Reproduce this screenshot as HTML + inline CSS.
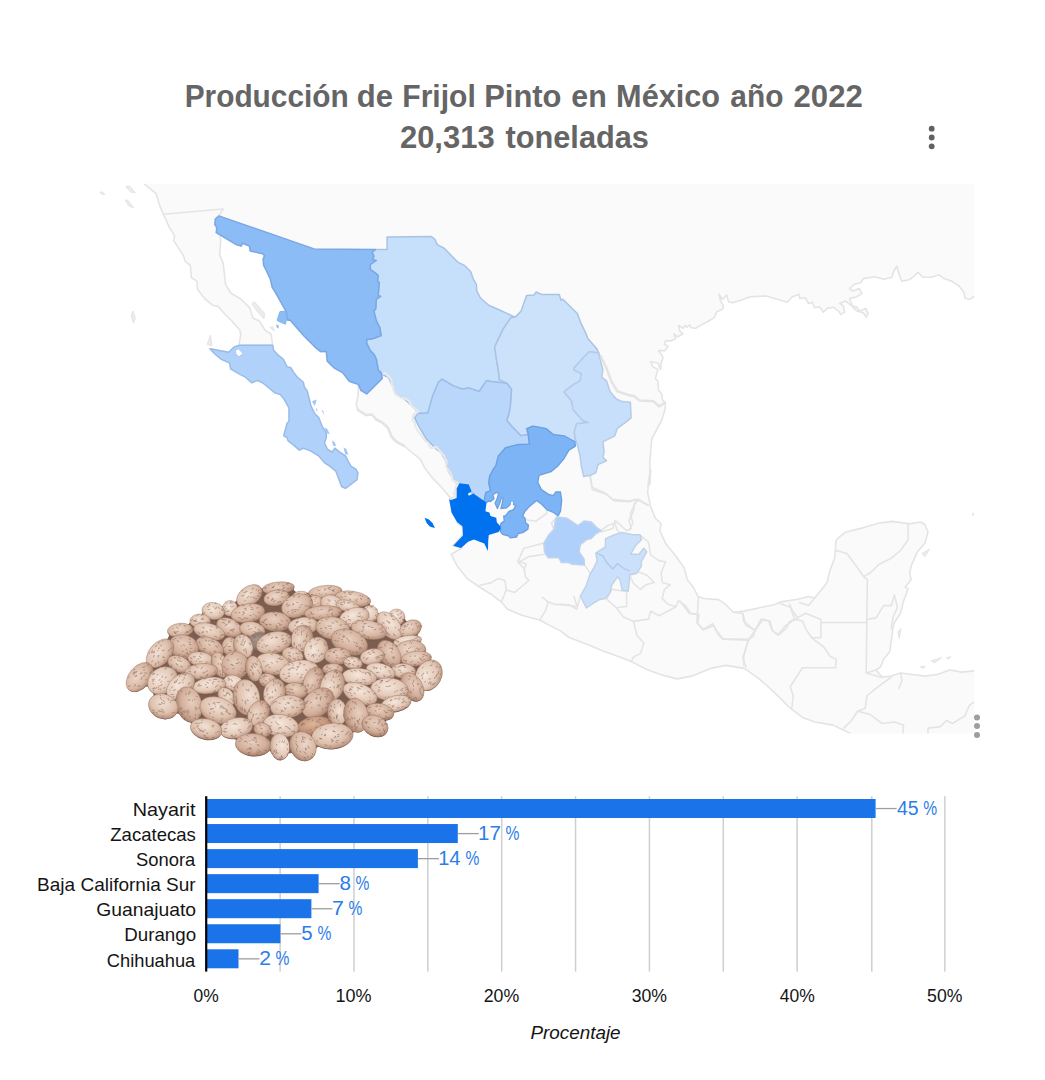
<!DOCTYPE html>
<html lang="es"><head><meta charset="utf-8"><title>Producción de Frijol Pinto en México año 2022</title>
<style>html,body{margin:0;padding:0;background:#fff}svg{display:block}text{font-family:"Liberation Sans",sans-serif}.t{font-weight:bold;font-size:30.5px;fill:#666}.c{font-size:17px;fill:#111}.v{font-size:17px;fill:#2b7de9}.x{font-size:17px;fill:#111}</style></head><body>
<svg width="1045" height="1080" viewBox="0 0 1045 1080">
<rect width="1045" height="1080" fill="#fff"/>
<text transform="translate(184.63 107.30) scale(0.9756 1)" font-size="30.6" fill="#656565" font-weight="bold">Producción</text>
<text transform="translate(356.73 107.30) scale(1.0150 1)" font-size="30.6" fill="#656565" font-weight="bold">de</text>
<text transform="translate(402.32 107.30) scale(0.9820 1)" font-size="30.6" fill="#656565" font-weight="bold">Frijol</text>
<text transform="translate(484.17 107.30) scale(1.0113 1)" font-size="30.6" fill="#656565" font-weight="bold">Pinto</text>
<text transform="translate(571.35 107.30) scale(0.9918 1)" font-size="30.6" fill="#656565" font-weight="bold">en</text>
<text transform="translate(616.08 107.30) scale(1.0027 1)" font-size="30.6" fill="#656565" font-weight="bold">México</text>
<text transform="translate(730.33 107.30) scale(0.9769 1)" font-size="30.6" fill="#656565" font-weight="bold">año</text>
<text transform="translate(793.53 107.30) scale(1.0188 1)" font-size="30.6" fill="#656565" font-weight="bold">2022</text>
<text transform="translate(399.93 148.00) scale(1.0122 1)" font-size="30.6" fill="#656565" font-weight="bold">20,313</text>
<text transform="translate(505.50 148.00) scale(1.0049 1)" font-size="30.6" fill="#656565" font-weight="bold">toneladas</text>
<circle cx="931.7" cy="128.7" r="2.9" fill="#616161"/>
<circle cx="931.7" cy="137.5" r="2.9" fill="#616161"/>
<circle cx="931.7" cy="146.3" r="2.9" fill="#616161"/>
<clipPath id="mc"><rect x="92" y="183.8" width="882.3" height="549.5999999999999"/></clipPath>
<g clip-path="url(#mc)">
<path d="M141,177.8 L980.3,177.8 L980.3,297 L973.9,296.7 L970.2,299.2 L965.2,298.5 L963.9,292.3 L959,286 L951.5,281.1 L944,278.6 L939.1,274.8 L931.6,277.3 L922.9,277.3 L917.9,272.3 L914.2,276.1 L909.2,279.8 L901.7,281.1 L899.2,274.8 L896.8,266.1 L893.8,271.1 L891.8,277.3 L884.3,279.3 L874.4,276.8 L863.2,278.6 L860.7,282.8 L854.5,284.3 L849.5,288.5 L853.2,291 L859.4,288.5 L861.9,293.5 L856.9,296.7 L849.5,298.5 L853.2,307.7 L856.9,310.9 L863.2,312.7 L866.4,317.1 L868.1,313.4 L865.7,308.4 L859.4,310.9 L856.9,307.2 L850.7,305.2 L845.7,301 L839.5,303.4 L843.3,305.9 L844.5,312.2 L840.8,314.6 L838.3,310.9 L833.3,307.2 L827.1,308.4 L823.4,312.2 L819.6,306.7 L814.6,307.7 L812.2,302.2 L808.4,303.4 L805.2,297.7 L799.7,298.5 L799.2,294.2 L792.3,296.7 L787.3,302.2 L766.1,296 L760,296.2 L749.2,296.9 L741.5,300.1 L732.4,302.7 L728.5,301.4 L726.6,294.9 L722.7,299.4 L718.8,294.3 L720.7,301.4 L723.3,305.3 L722.7,309.2 L716.8,311.8 L714.3,317.6 L707.8,321.5 L700,325.6 L696.1,328.2 L690.9,327.7 L689.6,324.7 L687,327.3 L685.1,325.4 L683.1,328.2 L678.6,325.4 L679.9,331.2 L683.1,333.8 L677.3,337 L674.1,333.8 L675.4,339 L670.2,340.9 L665.6,340.9 L664.3,344.2 L668.2,346.1 L665,350.6 L658.5,350.6 L661.8,355.2 L663.1,357.8 L661.1,363 L660.5,369.4 L657.9,363 L650.7,361.7 L652.7,366.8 L657.9,369.4 L656.6,374 L655.3,378.5 L657.9,381.1 L658.5,390.2 L661.8,394.1 L662.4,399.9 L665.6,402.5 L665,409.6 L661.8,420 L651.7,439 L649.8,462 L649.8,485 L650.7,469.9 L648.4,481.3 L647.7,492.8 L650.7,506.6 L655.3,518.1 L661.1,523.8 L659.9,530.7 L665.6,543.4 L674.8,554.8 L684,567.5 L687.5,580.1 L693.2,587 L697.8,596.2 L703.5,598.5 L718.5,599.6 L725.4,604.2 L733.4,612.3 L743.7,611.1 L759.8,607.7 L775.9,604.2 L780.5,601.9 L796.4,599.5 L808.6,596.5 L814.7,598 L827,582.7 L830,570.4 L834.6,558.2 L836.2,539.8 L845.4,532.2 L863.7,527.6 L879,523 L892.8,521.4 L909.7,523.9 L920.4,522 L925,524.5 L928,532.2 L925,542.9 L917.3,552.1 L911.2,565.8 L909.7,573.5 L911.2,579.6 L905.1,587.3 L908.1,588.8 L903.5,601.1 L900.5,613.3 L894.4,622.5 L892.8,628.6 L891.3,640.9 L889.8,651.6 L883.6,659.2 L880.6,666.9 L876,670 L882.1,677 L891.3,676.1 L900.5,673 L912.7,674.5 L925,676.1 L937.2,674.5 L949.5,670 L961.7,672.1 L974,670.9 L980.3,671 L980.3,739.4 L852,739.4 L850,733.3 L833.1,725.1 L814.7,722 L802.5,717.4 L790.2,708.2 L774.9,692.9 L759.6,679.1 L744.3,668.4 L725.9,665.4 L710.6,668.4 L692.2,676.1 L677.1,678.9 L663.4,675.4 L647.3,669.7 L631.2,661.6 L619.7,657 L603.6,651.3 L587.6,644.4 L569.2,637.5 L560,630.6 L550.5,625.9 L539.7,620 L521.8,615.2 L507.4,609.2 L501.4,602 L491.9,594.8 L478.7,586.5 L466.7,578.1 L457.2,566.1 L451.2,554.2 L461.5,548.2 L452.9,545.8 L462.4,535.1 L463.6,527.9 L457.7,523.1 L452.9,513.5 L449.3,499.2 L450.5,498 L441.1,486.7 L432,477.6 L424.3,467.2 L420.4,459.4 L412.6,453 L404.8,446.5 L397,442.6 L391.8,437.4 L388,428.3 L382.8,423.1 L376.3,419.9 L371.8,414.7 L365.9,415.4 L357.5,410.2 L356.2,403.7 L358.1,395.9 L358.4,384.4 L355,383.2 L349.3,381.2 L342.6,372.6 L334,367.8 L327.3,361.1 L326.3,351.6 L320.6,351.6 L314.8,346.8 L304.3,336.3 L290,320 L287.8,320.2 L286.1,311.1 L284.7,308.8 L280.6,301.6 L275.8,293.2 L272.2,287.2 L270.3,278.9 L267.5,272.9 L263.6,265.2 L263.2,259 L264.6,255.6 L262.7,253.7 L250.2,250.9 L249.5,246.1 L242.6,243.2 L241.1,246.1 L236.4,244.6 L216.3,232.7 L218.9,232.7 L220.8,239.4 L219.6,254.9 L223.2,263.3 L224.4,274.1 L225.6,284.8 L231.1,293.2 L241.1,299.2 L249.5,307.6 L253.1,318.3 L259.1,320.7 L265.1,330.3 L271.1,333.9 L272.7,345.8 L272.7,345.3 L273.7,350.6 L278.5,355.4 L283.3,359.2 L287.1,366.9 L290.9,367.8 L293.8,372.6 L296.7,376.5 L303.3,382.2 L304.3,387 L307.2,390.8 L309.1,398.5 L311,406.1 L314.8,413.8 L318.7,417.6 L322.5,427.2 L326.3,432.9 L326.3,437.7 L324.4,442.5 L327.3,449.2 L332.1,452.1 L334.9,448.2 L339.7,452.1 L345.5,455.9 L348.3,461.6 L351.2,466.4 L356,469.3 L357.9,473.1 L356.9,479.8 L345.5,488.4 L341.6,486.5 L338.8,478.9 L335.9,471.2 L330.1,466.4 L324.4,462.6 L318.7,455.9 L311,451.1 L303.3,448.2 L299.5,450.1 L292.8,444.4 L288,440.6 L287.1,437.7 L283.8,435.8 L287.1,423.3 L289,421.4 L289,408 L284.2,399.4 L280.4,394.6 L274.6,392.7 L267.9,387 L263.2,383.2 L257.4,380.3 L251.7,382.8 L245.9,377.4 L240.2,374.5 L230.6,368.8 L229.7,363.1 L221.1,359.2 L214.4,353.5 L210,348.7 L228.7,352.2 L234.4,346.8 L239.2,345.3 L238.8,345.8 L240.7,335.1 L240,330.3 L231.6,320.7 L224.4,313.5 L218.4,306.4 L212.4,305.2 L205.3,299.2 L197.6,289.6 L196.9,281.2 L191.4,277.7 L190.4,265.7 L184.9,260.9 L183.7,256.1 L173.7,240.6 L174.6,235.8 L169.4,227.4 L163.4,214.3 L159.8,205.9 L156.2,193.9 L144.3,183.9 L140,178Z" fill="#fafafa" stroke="#e4e4e4" stroke-width="1.6" stroke-linejoin="round"/>
<path d="M125.8,186.7 L129.9,186.3 L135.2,192.7 L130.6,192Z" fill="#ececec" stroke="#e4e4e4" stroke-width="1" stroke-linejoin="round"/>
<path d="M125.1,199.9 L128.2,200.6 L133.5,207.6 L128.7,205.9Z" fill="#ececec" stroke="#e4e4e4" stroke-width="1" stroke-linejoin="round"/>
<path d="M100,192 L102.9,192.2 L104.8,194.6 L101.2,193.9Z" fill="#ececec" stroke="#e4e4e4" stroke-width="1" stroke-linejoin="round"/>
<path d="M131.1,315.9 L133,311.1 L135.4,317.8 L133.5,323.1Z" fill="#ececec" stroke="#e4e4e4" stroke-width="1" stroke-linejoin="round"/>
<path d="M207.2,344.6 L210.5,335.1 L212,345.8Z" fill="#ececec" stroke="#e4e4e4" stroke-width="1" stroke-linejoin="round"/>
<path d="M251.9,304 L254.3,301.6 L264.6,313.5 L263.9,318.8 L257.9,312.3Z" fill="#ececec" stroke="#e4e4e4" stroke-width="1" stroke-linejoin="round"/>
<path d="M269.9,327.4 L272.7,326.7 L274.2,330.8Z" fill="#ececec" stroke="#e4e4e4" stroke-width="1" stroke-linejoin="round"/>
<path d="M921.9,553.6 L929.6,549 L925,556.7Z" fill="#ececec" stroke="#e4e4e4" stroke-width="1" stroke-linejoin="round"/>
<path d="M931.1,660.8 L941.8,657.7 L934.2,662.9Z" fill="#ececec" stroke="#e4e4e4" stroke-width="1" stroke-linejoin="round"/>
<path d="M946.4,657.7 L951,656.8 L947.9,659.2Z" fill="#ececec" stroke="#e4e4e4" stroke-width="1" stroke-linejoin="round"/>
<path d="M920.4,666.9 L925,666.3 L923.4,668.4Z" fill="#ececec" stroke="#e4e4e4" stroke-width="1" stroke-linejoin="round"/>
<path d="M972.4,513.8 L974,512.9 L973.4,515.9Z" fill="#ececec" stroke="#e4e4e4" stroke-width="1" stroke-linejoin="round"/>
<path d="M898,631.7 L901.1,628.6 L899.3,638.4Z" fill="#ececec" stroke="#e4e4e4" stroke-width="1" stroke-linejoin="round"/>
<g fill="none" stroke="#e4e4e4" stroke-width="1.6" stroke-linejoin="round" stroke-linecap="round">
<path d="M163.4,214.3 L223.2,209 L218.9,215.9"/>
<path d="M218.9,215.9 L216.3,232.7"/>
<path d="M239.2,345.3 L272.7,345.3"/>
<path d="M450.5,498 L455.3,496.8 L456.5,484.8"/>
<path d="M589.9,476.7 L592.2,489.4 L605.9,494 L614,500.9 L628.9,501.6 L638.1,499.3 L648.4,505.5"/>
<path d="M634.6,503.2 L633.5,511.2 L628.9,520.4 L631.2,528.4 L626.6,530.7"/>
<path d="M590.4,475.3 L592.1,487.2 L605.3,493.2 L612.4,499.2 L629.2,501.1 L636.4,499.2 L648.3,505.2"/>
<path d="M636.4,501.1 L630.4,513.5 L632.8,523.1 L629.2,530.3"/>
<path d="M600.5,530.8 L607.7,525.5 L614.8,523.1 L617.2,530.3 L619.6,532.7"/>
<path d="M523.9,519.5 L535.9,521.2 L546.7,513.5 L546.7,510"/>
<path d="M553.8,529.1 L551.4,523.1 L557.4,516.4"/>
<path d="M543.1,543.4 L533.5,545.8 L523.9,548.2 L517.9,561.4 L526.3,563.8 L523.9,570"/>
<path d="M544.5,554.2 L528.9,556.6 L518.2,562.5 L524.2,568.5 L525.4,576.9 L528.9,580.5 L521.8,586.5 L514.6,592.4 L506.2,590 L505,580.5 L497.8,578.6 L490.7,582.9 L479.9,585.3"/>
<path d="M506.2,590 L501.4,602"/>
<path d="M584.4,564.9 L588.8,570.9 L591.1,574.5"/>
<path d="M542.1,597.2 L548.1,602 L555.3,604.4 L569.6,604.9 L576.8,609.2 L580.4,596"/>
<path d="M548.1,602 L545.7,610.4 L539.7,620"/>
<path d="M573.8,596.2 L577.2,606.5 L560,604.2"/>
<path d="M605.9,598.5 L616.3,607.7 L623.2,616.8 L633.5,621.4 L648.4,619.1 L650.7,611.1 L658.8,615.7 L670.2,610 L676,606.5"/>
<path d="M633.5,621.4 L636.9,635.2 L643.8,643.3 L640.4,653.6 L633.5,657 L631.2,661.6"/>
<path d="M648.4,542.2 L650.7,554.8 L658.8,560.6 L665.6,561.7 L661.1,573.2 L662.2,582.4 L670.2,584.7 L664.5,589.3 L662.2,598.5 L667.9,604.2 L676,606.5 L678.3,600.8 L685.2,605.4 L690.9,613.4 L699,614.6 L697.8,623.7 L703.5,629.5 L712.7,623.7 L716.2,630.6 L723.1,638.7 L748.3,639.4 L743.7,655.9 L743.7,665.1"/>
<path d="M630.1,575.5 L639.2,572.1 L647.3,575.5 L654.2,582.4 L646.1,584.7 L640.4,589.3 L633.5,583.5 L630.1,575.5"/>
<path d="M607.1,598.5 L611.7,589.3 L626.6,591.6 L626.6,606.5 L616.3,607.7"/>
<path d="M733.4,612.3 L742.6,613.4 L743.7,621.4 L755.2,630.6 L748.3,639.4"/>
<path d="M755.2,630.6 L759.8,623.7 L763.3,619.1 L770.2,621.4 L772.4,630.6 L778.2,635.2 L786.2,628.3 L789.7,621.4 L797.7,618 L792,610 L789.7,604.2"/>
<path d="M634.6,503.2 L639.2,499.7"/>
<path d="M626.6,530.7 L615.1,520.4 L612.8,528.4 L601.3,531.9"/>
<path d="M640.4,535.3 L648.4,542.2"/>
<path d="M836.2,550.5 L846.9,553.6 L856.1,565.8 L863.7,576.6 L867.4,579.6"/>
<path d="M908.1,523.9 L908.1,539.8 L900.5,550.5 L891.3,558.2 L879,564.3 L871.4,572 L863.7,576.6"/>
<path d="M867.4,579.6 L866.8,622.5 L866.2,673 L876,670"/>
<path d="M820.9,622.5 L866.8,622.5"/>
<path d="M867.4,619.4 L876,617.9 L883.6,605.6 L891.3,605.6 L894.4,594.9 L897.4,607.2 L892.8,617.9 L891.3,628.6"/>
<path d="M794.8,619.4 L805.6,613.3 L820.9,619.4 L820.9,637.8 L811.7,637.8 L805.6,628.6 L802.5,621 L794.8,619.4"/>
<path d="M799.4,602.6 L808.6,605.6 L814.7,598"/>
<path d="M811.7,637.8 L823.9,647 L830,656.2 L836.2,659.2 L835.6,667.8 L802.5,667.8 L790.2,686.8 L793.3,696 L791.8,708.2"/>
<path d="M866.2,673 L882.1,677.6"/>
<path d="M891.3,677 L876,688.3 L866.8,696 L865.3,708.2 L857.6,711.3 L851.5,720.5 L843.8,728.1"/>
<path d="M857.6,711.3 L869.9,714.4 L882.1,723.5 L894.4,722 L903.5,725.1 L902.9,733.3"/>
<path d="M928,733.3 L928,728.1 L940.3,726.6 L946.4,720.5 L952.5,723.5 L964.8,715.9 L969.4,705.2 L974,702.1"/>
<path d="M900.5,673 L902,680.7 L898.9,688.3"/>
<path d="M742.8,613.3 L745.8,625.6 L755,630.1 L753.5,636.3 L748.9,639.3 L742.8,657.7 L745.8,666.9"/>
<path d="M755,630.1 L761.1,619.4 L768.8,621 L771.9,630.1 L778,634.7 L785.6,625.6 L794.8,619.4 L790.2,607.2 L778,602.6"/>
<path d="M722.9,639.3 L748.9,640.2"/>
<path d="M698.4,598 L696.8,622.5 L703,630.1 L713.7,625.6 L718.3,634.7 L722.9,639.3"/>
<path d="M680,601.1 L689.2,613.3 L698.4,614.8"/>
</g>
<path d="M600,354.8 L605.7,366.3 L611.5,381.6 L617.2,391.2 L630,395.4 L633.9,396 L639.7,400.5 L653.3,401.2 L659.2,406.4 L665.6,402.5" fill="none" stroke="#e4e4e4" stroke-width="2.6" stroke-linejoin="round"/>
<path d="M375.6,249.4 L387.1,249.4 L387.1,237 L431.3,236.5 L434.9,239.4 L437.3,244.6 L444.5,248.5 L457.7,262.1 L464.8,265.7 L470.8,271.7 L473.2,278.9 L476.3,284.4 L476.8,290.8 L480.4,298 L488.8,305.2 L499.5,310 L515.1,317.1 L510.8,317.8 L503.1,329.1 L494.7,347 L496.4,359 L498.3,370 L499.5,379.6 L506.7,383.2 L491.1,381.5 L486.4,380.8 L479.2,391.5 L468.4,387.9 L462.4,389.1 L452.9,385.6 L442.1,379.1 L438.5,382 L432.5,396.3 L427.8,413.1 L421.8,413.5 L418.2,413.1 L412.2,405.9 L403.8,398.7 L395.5,393.9 L391.9,384.4 L388.3,377.2 L382.3,374.8 L381.1,372.9 L378.2,370 L376.3,359 L373.9,354.2 L370.3,350.6 L366.7,343.4 L366.7,339.4 L372.7,338.7 L381.1,335.6 L379.9,327.9 L376.3,320.7 L373.9,311.1 L375.8,308.8 L376.3,299.2 L380.6,296.3 L378.2,295.6 L379.2,282.4 L377.5,281.2 L378.2,275.3 L375.1,272.9 L370.3,269.3 L370.3,264.5 L376.3,260.4 L372.7,259.7 L373.9,256.1 L372,252.5Z" fill="#c6dffb" stroke="#a9c3e6" stroke-width="1.5" stroke-linejoin="round"/>
<path d="M515.1,317.1 L521.1,311.1 L526.6,295.6 L534.2,294.9 L536.1,292 L541.4,294.4 L559.3,294.4 L561,300.4 L562.9,299.2 L577.3,313.5 L580.9,323.1 L585.6,332.7 L588,338.7 L596.4,348.2 L598.8,353 L589.2,351.8 L582.1,359 L573.7,368.6 L574.2,370 L581.3,373.6 L580.1,380.8 L571.8,385.6 L564.1,392 L571.8,401.1 L573,409.5 L582.5,420.2 L588.5,422.6 L576.6,423.8 L574.2,432.2 L575.4,441.8 L569.4,440.6 L562.2,435.8 L551.4,434.1 L545.5,428.6 L532.3,426.2 L526.3,428.6 L528.2,434.6 L521.1,435.8 L512.7,427.4 L506.7,420.2 L509.1,413.1 L510.3,405.9 L511.5,389.1 L506.7,383.2 L499.5,379.6 L498.3,370 L496.4,359 L494.7,347 L503.1,329.1 L510.8,317.8Z" fill="#cce2fb" stroke="#aac3e4" stroke-width="1.5" stroke-linejoin="round"/>
<path d="M574.2,370 L581.3,373.6 L580.1,380.8 L571.8,385.6 L564.1,392 L571.8,401.1 L573,409.5 L582.5,420.2 L588.5,422.6 L576.6,423.8 L574.2,432.2 L576.1,441.8 L577.8,446.6 L580.1,456.1 L581.3,465.7 L583.7,476.5 L590.4,475.3 L595.7,472.9 L598.1,464.5 L606.5,460.9 L602.9,457.3 L604.1,451.3 L602.9,441.8 L614.8,435.8 L617.2,428.6 L626.8,421.4 L631.1,417.8 L630.4,402.3 L622,401.6 L616,398.7 L610,391.5 L606.5,380.8 L601.7,377.2 L602.9,370 L600,359 L598.8,353 L589.2,351.8 L582.1,359 L573.7,368.6Z" fill="#c8dffb" stroke="#b6cbe8" stroke-width="1.5" stroke-linejoin="round"/>
<path d="M421.8,413.5 L427.8,413.1 L432.5,396.3 L438.5,382 L442.1,379.1 L452.9,385.6 L462.4,389.1 L468.4,387.9 L479.2,391.5 L486.4,380.8 L491.1,381.5 L506.7,383.2 L511.5,389.1 L510.3,405.9 L509.1,413.1 L506.7,420.2 L512.7,427.4 L521.1,435.8 L528.2,434.6 L529.4,444.2 L517.5,444.6 L505.5,447.8 L498.3,456.1 L495.9,465.7 L490,475.3 L488.8,484.8 L491.1,492 L486.4,494.4 L484,501.6 L479.2,499.2 L473.2,493.2 L469.6,492 L468.4,484.8 L457.7,484.4 L452.9,478.9 L448.1,470.5 L445.7,460.9 L440.9,452.5 L434.9,447.8 L426.6,439.4 L419.4,427.4 L414.6,417.8 L418.2,413.1Z" fill="#b9d7fb" stroke="#9fbde6" stroke-width="1.5" stroke-linejoin="round"/>
<path d="M215.3,219 L218.9,215.9 L314.1,248.9 L375.6,249.4 L372,252.5 L373.9,256.1 L372.7,259.7 L376.3,260.4 L370.3,264.5 L370.3,269.3 L375.1,272.9 L378.2,275.3 L377.5,281.2 L379.2,282.4 L378.2,295.6 L380.6,296.3 L376.3,299.2 L375.8,308.8 L373.9,311.1 L376.3,320.7 L379.9,327.9 L381.1,335.6 L372.7,338.7 L366.7,339.4 L366.7,343.4 L370.3,350.6 L373.9,354.2 L376.3,359 L378.2,370 L381.1,372.9 L382.3,378.4 L366.7,393.9 L360.8,390.3 L358.4,384.4 L355,383.2 L349.3,381.2 L342.6,372.6 L334,367.8 L327.3,361.1 L326.3,351.6 L320.6,351.6 L314.8,346.8 L304.3,336.3 L290,320 L287.8,320.2 L286.1,311.1 L284.7,308.8 L280.6,301.6 L275.8,293.2 L272.2,287.2 L270.3,278.9 L267.5,272.9 L263.6,265.2 L263.2,259 L264.6,255.6 L262.7,253.7 L250.2,250.9 L249.5,246.1 L242.6,243.2 L241.1,246.1 L236.4,244.6 L216.3,232.7 L216.7,227.4 L214.8,224.5Z" fill="#8cbcf6" stroke="#79a8e4" stroke-width="1.5" stroke-linejoin="round"/>
<path d="M279.9,311.6 L285.4,311.1 L287.1,317.1 L285.4,324.3 L278.2,321.2 L277,320.2Z" fill="#8cbcf6" stroke="#7eaeea" stroke-width="0.8" stroke-linejoin="round"/>
<path d="M276.1,324.5 L278.9,325.5 L278.5,328.4 L276.6,327.4Z" fill="#8cbcf6"/>
<path d="M527,428.6 L533,426.2 L546.2,428.6 L553.3,434.6 L564.1,435.8 L574.9,441.8 L575.4,446.1 L568.9,450.1 L564.1,458.5 L558.1,465.7 L551,471.7 L539,475.3 L537.8,482.4 L541.4,489.6 L548.6,494.4 L553.3,495.6 L555.7,492 L560.5,492 L561.7,500.4 L560.5,511.1 L558.1,515.9 L553.3,512.3 L547.4,510 L541.4,504 L536.6,500.4 L529.4,506.4 L525,511.3 L522.7,515.9 L525,518.2 L525.6,522.8 L528.4,525.1 L527.9,529.1 L522.7,532.6 L518.1,533.7 L516.4,537.2 L510.1,537.8 L508.9,536 L502.6,534.3 L500.3,531.4 L500.9,528.6 L500.3,526.3 L500.9,523.4 L504.3,521.1 L503.7,515.9 L505.5,515.9 L508.9,511.3 L513.5,509.6 L515.8,505.6 L513.5,504.5 L513.5,501.6 L510.6,501.6 L510.1,504.5 L506.6,507.9 L500.9,508.5 L502,504.5 L503.2,498.1 L501.4,497.6 L499.7,503.3 L497.4,508.5 L495.1,503.3 L497.4,498.1 L498.6,493 L496.3,492.4 L492.8,494.7 L494,498.7 L490.5,501.6 L488.2,501 L486.5,502.7 L484.2,501 L484.8,496.4 L485.9,492.4 L490.5,490.7 L488.8,482.6 L489.4,476.9 L492.8,470 L495.9,465.7 L498.3,456.1 L505.5,447.8 L517.5,444.6 L529.4,444.2 L528.2,434.6Z" fill="#7db4f5" stroke="#6c9fe2" stroke-width="1.3" stroke-linejoin="round"/>
<path d="M510.6,502.2 L512.1,501.2 L513.5,502.4 L512.3,504 L511,503.8Z" fill="#fafafa"/>
<path d="M210,348.7 L228.7,352.2 L234.4,346.8 L239.2,345.3 L272.7,345.3 L273.7,350.6 L278.5,355.4 L283.3,359.2 L287.1,366.9 L290.9,367.8 L293.8,372.6 L296.7,376.5 L303.3,382.2 L304.3,387 L307.2,390.8 L309.1,398.5 L311,406.1 L314.8,413.8 L318.7,417.6 L322.5,427.2 L326.3,432.9 L326.3,437.7 L324.4,442.5 L327.3,449.2 L332.1,452.1 L334.9,448.2 L339.7,452.1 L345.5,455.9 L348.3,461.6 L351.2,466.4 L356,469.3 L357.9,473.1 L356.9,479.8 L345.5,488.4 L341.6,486.5 L338.8,478.9 L335.9,471.2 L330.1,466.4 L324.4,462.6 L318.7,455.9 L311,451.1 L303.3,448.2 L299.5,450.1 L292.8,444.4 L288,440.6 L287.1,437.7 L283.8,435.8 L287.1,423.3 L289,421.4 L289,408 L284.2,399.4 L280.4,394.6 L274.6,392.7 L267.9,387 L263.2,383.2 L257.4,380.3 L251.7,382.8 L245.9,377.4 L240.2,374.5 L230.6,368.8 L229.7,363.1 L221.1,359.2 L214.4,353.5Z" fill="#b0d2fa" stroke="#98bbea" stroke-width="1.4" stroke-linejoin="round"/>
<path d="M235.4,350.6 L238.3,348.7 L243.1,353.5 L239.2,356.7 L236,354.4Z" fill="#ffffff" stroke="#9fc2ee" stroke-width="0.8" stroke-linejoin="round"/>
<path d="M312,401.3 L316.7,399.4 L314.8,406.1Z" fill="#9cc6f7"/>
<path d="M315.8,408 L317.3,409 L317.1,412.2Z" fill="#9cc6f7"/>
<path d="M321.5,410 L323.4,410.9 L324,415.1Z" fill="#9cc6f7"/>
<path d="M324.4,427.2 L327.3,429.1 L329.8,434.3 L326.3,432.9Z" fill="#9cc6f7"/>
<path d="M332.1,440.6 L334.9,442.5 L335.9,446.3 L333,445.4Z" fill="#9cc6f7"/>
<path d="M343.5,447.3 L346.4,449.2 L348.3,454.9 L345.1,454Z" fill="#9cc6f7"/>
<path d="M556.5,517.1 L567.2,518.3 L578,525.5 L584,521.1 L591.1,521.9 L597.1,527.8 L601.2,530.7 L595.9,533.8 L591.1,538.6 L586.4,539.8 L580.4,544.6 L579.2,551.8 L584,558.9 L584.4,564.9 L572,564.2 L568.4,562.5 L561.2,562.5 L558.9,557.8 L548.1,557.8 L544.5,551.8 L543.8,543.4 L548.6,535 L554.1,529 L555.3,520.7Z" fill="#afd0fa" stroke="#c2d4ec" stroke-width="1.5" stroke-linejoin="round"/>
<path d="M605.5,538.6 L615.1,534.5 L621.1,532.6 L631.8,534.5 L640.2,535 L641.4,539.8 L635.4,545.8 L630.6,554.2 L639,554.2 L643.8,548.2 L646.7,551.8 L641.4,561.3 L641.4,566.1 L636.6,573.3 L629.4,574.5 L629.4,580.5 L628.2,591.2 L622.2,590 L619.9,579.3 L617.5,576.9 L611.5,585.3 L610.3,592.4 L605.5,598.4 L599.5,599.6 L593.5,603.2 L586.4,608 L580.4,596 L586.4,585.3 L590,574.5 L593.5,568.5 L597.1,561.3 L595.9,553 L599.5,550.6 L605.5,547Z" fill="#cbe1fb" stroke="#c0d2ea" stroke-width="1.5" stroke-linejoin="round"/>
<path d="M596.4,553 L603.1,556.1 L606.7,562.5 L612.7,569 L617.5,563.7 L624.6,569 L629.9,570.9" fill="none" stroke="#b0c8e8" stroke-width="1.3"/>
<path d="M382.8,373.9 L385.4,373.2 L388,375.8 L389.9,377.8 L391.8,381 L391.6,384.3 L393.1,386.9 L393.8,390.7 L395.7,394.6 L398.3,395.9 L400.9,397.9 L404.8,398.5 L408.7,400.5 L410.6,404 L411.9,406.3 L415.2,408.9 L418.4,411.5 L413.2,414.7 L412.6,420.6 L414.9,422.5 L415.2,425.7 L417.8,430.9 L423,437.4 L424.9,440.6 L428.1,442.6 L430.1,447.8 L436.6,447.1 L441.7,453 L444.3,456.2 L445,459.4 L446.5,460.7 L446.3,467.2 L450.2,472.4 L451.7,476.3 L452.8,480.2 L458,482.8 L456,486.7 L454.1,494.4 L457.3,498.3" fill="none" stroke="#e9e9e9" stroke-width="2.2" stroke-linejoin="round"/>
<path d="M357.5,409.5 L365.9,415 L371.8,414.5 L376.3,419.5 L382.8,422.8 L388,427.9 L391.8,437 L397,442.2 L404.8,446.2" fill="none" stroke="#e4e4e4" stroke-width="2.6" stroke-linejoin="round"/>
<path d="M459.5,483.2 L468.7,484.4 L471.6,491.2 L468.1,493.5 L468.7,495.8 L473.3,493.5 L484.2,501 L486.5,502.7 L485.4,511.3 L489.4,512.5 L490.5,515.9 L496.3,517.7 L496.8,522.3 L500.3,526.3 L500.9,528.6 L498.6,532 L488.8,534.9 L488.2,541.2 L488,551 L484.2,543.5 L473.9,539.5 L468.1,541.8 L461.2,548.1 L453.2,545.8 L463,535.5 L462.4,526.3 L457.2,522.3 L451.5,512.5 L449.2,499.3 L450.9,499.9 L456.7,498.1 L456.7,488.4Z" fill="#0072f0"/>
<path d="M424.6,517.8 L428.9,519.5 L432.5,523.1 L434.9,527.9 L430.1,526.7 L426.6,523.1Z" fill="#0072f0"/>
</g>
<circle cx="977" cy="717.4" r="3" fill="#9e9e9e"/>
<circle cx="977" cy="726.1" r="3" fill="#9e9e9e"/>
<circle cx="977" cy="734.9" r="3" fill="#9e9e9e"/>
<defs>
<radialGradient id="bg0" cx="0.45" cy="0.38" r="0.66"><stop offset="0" stop-color="#f2e1d5"/><stop offset="0.62" stop-color="#dec0ad"/><stop offset="1" stop-color="#b08975"/></radialGradient>
<radialGradient id="bg1" cx="0.45" cy="0.38" r="0.66"><stop offset="0" stop-color="#eed9cb"/><stop offset="0.62" stop-color="#d8b7a3"/><stop offset="1" stop-color="#a8806c"/></radialGradient>
<radialGradient id="bg2" cx="0.45" cy="0.38" r="0.66"><stop offset="0" stop-color="#f5e7dc"/><stop offset="0.62" stop-color="#e4c9b8"/><stop offset="1" stop-color="#b8927f"/></radialGradient>
<radialGradient id="bg3" cx="0.45" cy="0.38" r="0.66"><stop offset="0" stop-color="#e9d0c0"/><stop offset="0.62" stop-color="#d2ae9a"/><stop offset="1" stop-color="#a07966"/></radialGradient>
<radialGradient id="bgd" cx="0.45" cy="0.38" r="0.66"><stop offset="0" stop-color="#a8968c"/><stop offset="0.6" stop-color="#8f7b71"/><stop offset="1" stop-color="#6d5a50"/></radialGradient>
<radialGradient id="bgb" cx="0.45" cy="0.38" r="0.66"><stop offset="0" stop-color="#dcb49c"/><stop offset="0.6" stop-color="#c4967c"/><stop offset="1" stop-color="#94694f"/></radialGradient>
</defs>
<g>
<path d="M129.8,687.8 L134.1,689.6 L143.7,686.4 L146.9,686.5 L149.9,687.8 L152.4,690.6 L153.5,693.7 L153.3,697.0 L150.5,704.7 L151.5,708.6 L154.2,712.3 L158.7,715.3 L164.9,716.7 L169.8,716.1 L175.7,713.4 L180.7,714.0 L190.2,721.2 L193.6,730.5 L200.5,735.6 L210.4,737.3 L221.8,734.2 L231.6,736.7 L235.7,739.8 L237.9,746.3 L239.9,748.8 L243.3,751.1 L249.1,753.2 L257.4,753.6 L269.3,751.1 L273.0,752.7 L277.3,756.8 L280.2,757.7 L282.8,757.1 L287.3,753.7 L291.4,753.0 L294.6,753.9 L301.1,758.1 L305.5,758.8 L311.0,756.5 L315.1,749.1 L319.0,746.3 L333.4,746.6 L344.2,743.6 L349.1,740.0 L353.4,732.6 L356.9,730.5 L364.8,729.3 L372.7,733.5 L377.2,734.5 L383.6,733.0 L385.9,729.5 L385.5,723.5 L386.3,720.3 L391.3,715.4 L393.8,711.2 L404.8,706.1 L411.4,700.2 L419.7,698.3 L424.5,690.2 L432.2,686.7 L436.4,682.9 L439.2,678.0 L440.3,671.5 L438.6,665.8 L431.2,660.3 L429.1,656.6 L425.2,652.8 L423.4,647.8 L420.3,643.5 L417.4,634.5 L419.3,626.9 L418.6,624.3 L415.7,622.3 L409.2,622.0 L406.0,620.7 L403.6,618.2 L401.7,613.9 L399.6,612.0 L395.2,611.4 L387.9,614.3 L378.8,613.4 L370.9,606.7 L368.4,600.4 L364.5,597.2 L355.6,594.0 L343.9,592.7 L335.4,588.2 L328.2,587.6 L320.4,588.4 L314.0,590.4 L308.7,593.7 L305.5,594.1 L296.9,592.7 L294.3,590.6 L292.2,586.6 L290.0,585.4 L279.5,584.1 L272.1,585.2 L263.3,588.6 L254.8,586.7 L248.6,588.0 L242.4,592.3 L238.1,599.3 L235.0,602.0 L228.4,603.1 L222.1,606.3 L213.4,604.6 L208.0,605.4 L204.9,607.8 L201.9,614.2 L193.4,618.4 L188.3,624.6 L185.1,625.6 L177.4,626.0 L171.7,628.2 L169.6,630.5 L169.4,635.0 L167.6,638.7 L157.1,644.4 L151.9,649.9 L146.5,662.4 L137.4,667.5 L132.1,672.8 L128.4,681.6 L128.4,685.0 L129.8,687.8Z" fill="#7c5d50"/>
<g fill="#735548"><ellipse cx="278.4" cy="589.4" rx="15.3" ry="6.0" transform="rotate(-5 278.4 589.4)"/><ellipse cx="325.4" cy="592.9" rx="15.8" ry="6.0" transform="rotate(-5 325.4 592.9)"/><ellipse cx="301.1" cy="597.3" rx="8.1" ry="4.7" transform="rotate(0 301.1 597.3)"/><ellipse cx="249.4" cy="597.0" rx="13.5" ry="8.9" transform="rotate(-35 249.4 597.0)"/><ellipse cx="276.6" cy="599.1" rx="12.2" ry="7.4" transform="rotate(-10 276.6 599.1)"/><ellipse cx="353.0" cy="600.0" rx="17.1" ry="7.1" transform="rotate(10 353.0 600.0)"/><ellipse cx="315.2" cy="603.5" rx="7.2" ry="6.5" transform="rotate(0 315.2 603.5)"/><ellipse cx="331.9" cy="605.2" rx="11.1" ry="8.4" transform="rotate(20 331.9 605.2)"/><ellipse cx="347.8" cy="607.5" rx="11.7" ry="5.6" transform="rotate(15 347.8 607.5)"/><ellipse cx="297.2" cy="607.0" rx="15.3" ry="10.8" transform="rotate(-20 297.2 607.0)"/><ellipse cx="230.0" cy="609.6" rx="7.2" ry="7.4" transform="rotate(0 230.0 609.6)"/><ellipse cx="213.3" cy="612.3" rx="10.8" ry="8.2" transform="rotate(10 213.3 612.3)"/><ellipse cx="323.1" cy="614.0" rx="18.0" ry="6.7" transform="rotate(-3 323.1 614.0)"/><ellipse cx="247.9" cy="614.4" rx="16.2" ry="8.9" transform="rotate(-10 247.9 614.4)"/><ellipse cx="369.8" cy="615.3" rx="8.1" ry="8.4" transform="rotate(0 369.8 615.3)"/><ellipse cx="396.5" cy="618.4" rx="8.1" ry="7.8" transform="rotate(0 396.5 618.4)"/><ellipse cx="354.3" cy="618.4" rx="14.4" ry="8.9" transform="rotate(-15 354.3 618.4)"/><ellipse cx="200.1" cy="622.3" rx="9.9" ry="6.7" transform="rotate(0 200.1 622.3)"/><ellipse cx="275.2" cy="622.8" rx="15.1" ry="9.3" transform="rotate(5 275.2 622.8)"/><ellipse cx="389.5" cy="626.9" rx="15.3" ry="9.3" transform="rotate(50 389.5 626.9)"/><ellipse cx="303.2" cy="627.2" rx="14.4" ry="8.4" transform="rotate(-5 303.2 627.2)"/><ellipse cx="229.1" cy="628.6" rx="12.6" ry="8.4" transform="rotate(25 229.1 628.6)"/><ellipse cx="410.6" cy="629.9" rx="10.8" ry="7.8" transform="rotate(-25 410.6 629.9)"/><ellipse cx="332.8" cy="629.4" rx="16.2" ry="10.8" transform="rotate(10 332.8 629.4)"/><ellipse cx="252.3" cy="630.8" rx="12.2" ry="7.4" transform="rotate(10 252.3 630.8)"/><ellipse cx="180.2" cy="631.6" rx="12.2" ry="6.7" transform="rotate(-5 180.2 631.6)"/><ellipse cx="368.9" cy="631.1" rx="17.1" ry="8.9" transform="rotate(12 368.9 631.1)"/><ellipse cx="209.2" cy="632.9" rx="15.3" ry="7.8" transform="rotate(15 209.2 632.9)"/><ellipse cx="302.0" cy="639.6" rx="12.9" ry="10.2" transform="rotate(-75 302.0 639.6)"/><ellipse cx="407.6" cy="642.2" rx="13.5" ry="5.2" transform="rotate(-8 407.6 642.2)"/><ellipse cx="258.2" cy="642.7" rx="10.8" ry="8.4" transform="rotate(-20 258.2 642.7)"/><ellipse cx="349.5" cy="643.4" rx="18.0" ry="11.5" transform="rotate(20 349.5 643.4)"/><ellipse cx="274.0" cy="644.0" rx="17.1" ry="10.2" transform="rotate(-15 274.0 644.0)"/><ellipse cx="230.0" cy="647.5" rx="7.5" ry="8.9" transform="rotate(0 230.0 647.5)"/><ellipse cx="243.2" cy="647.5" rx="11.7" ry="8.9" transform="rotate(70 243.2 647.5)"/><ellipse cx="209.8" cy="648.0" rx="14.0" ry="8.4" transform="rotate(25 209.8 648.0)"/><ellipse cx="183.7" cy="648.0" rx="14.4" ry="11.2" transform="rotate(15 183.7 648.0)"/><ellipse cx="316.1" cy="651.3" rx="12.9" ry="11.2" transform="rotate(-60 316.1 651.3)"/><ellipse cx="410.6" cy="652.2" rx="14.7" ry="10.2" transform="rotate(-5 410.6 652.2)"/><ellipse cx="160.1" cy="654.5" rx="15.8" ry="10.2" transform="rotate(-48 160.1 654.5)"/><ellipse cx="389.1" cy="655.0" rx="14.0" ry="9.7" transform="rotate(55 389.1 655.0)"/><ellipse cx="292.7" cy="656.6" rx="10.4" ry="7.4" transform="rotate(20 292.7 656.6)"/><ellipse cx="337.7" cy="657.2" rx="12.6" ry="8.2" transform="rotate(0 337.7 657.2)"/><ellipse cx="372.4" cy="658.0" rx="11.7" ry="7.8" transform="rotate(-10 372.4 658.0)"/><ellipse cx="416.4" cy="659.8" rx="14.4" ry="7.1" transform="rotate(-5 416.4 659.8)"/><ellipse cx="201.0" cy="660.7" rx="12.6" ry="7.1" transform="rotate(10 201.0 660.7)"/><ellipse cx="353.0" cy="664.2" rx="9.0" ry="6.0" transform="rotate(10 353.0 664.2)"/><ellipse cx="179.3" cy="665.4" rx="11.7" ry="7.4" transform="rotate(25 179.3 665.4)"/><ellipse cx="219.8" cy="666.0" rx="12.6" ry="7.4" transform="rotate(70 219.8 666.0)"/><ellipse cx="272.8" cy="665.1" rx="16.5" ry="10.2" transform="rotate(10 272.8 665.1)"/><ellipse cx="235.3" cy="666.8" rx="12.9" ry="13.4" transform="rotate(0 235.3 666.8)"/><ellipse cx="332.8" cy="670.4" rx="9.9" ry="5.6" transform="rotate(0 332.8 670.4)"/><ellipse cx="253.8" cy="669.8" rx="12.2" ry="7.8" transform="rotate(80 253.8 669.8)"/><ellipse cx="403.5" cy="672.1" rx="11.7" ry="7.1" transform="rotate(5 403.5 672.1)"/><ellipse cx="380.7" cy="672.5" rx="14.0" ry="7.4" transform="rotate(15 380.7 672.5)"/><ellipse cx="201.3" cy="672.6" rx="15.8" ry="7.4" transform="rotate(-5 201.3 672.6)"/><ellipse cx="299.0" cy="673.3" rx="18.9" ry="11.2" transform="rotate(-10 299.0 673.3)"/><ellipse cx="428.7" cy="676.5" rx="15.3" ry="12.1" transform="rotate(-60 428.7 676.5)"/><ellipse cx="359.5" cy="678.3" rx="16.5" ry="8.4" transform="rotate(5 359.5 678.3)"/><ellipse cx="139.7" cy="678.3" rx="15.8" ry="10.2" transform="rotate(-50 139.7 678.3)"/><ellipse cx="267.8" cy="681.8" rx="8.6" ry="6.7" transform="rotate(15 267.8 681.8)"/><ellipse cx="313.4" cy="681.8" rx="13.5" ry="8.9" transform="rotate(-65 313.4 681.8)"/><ellipse cx="162.6" cy="681.8" rx="15.3" ry="12.1" transform="rotate(-35 162.6 681.8)"/><ellipse cx="233.5" cy="684.4" rx="9.9" ry="7.4" transform="rotate(20 233.5 684.4)"/><ellipse cx="209.4" cy="686.7" rx="15.8" ry="7.8" transform="rotate(-8 209.4 686.7)"/><ellipse cx="332.4" cy="686.7" rx="15.3" ry="11.2" transform="rotate(-70 332.4 686.7)"/><ellipse cx="180.7" cy="687.4" rx="15.3" ry="10.2" transform="rotate(-40 180.7 687.4)"/><ellipse cx="412.3" cy="688.1" rx="14.7" ry="9.7" transform="rotate(60 412.3 688.1)"/><ellipse cx="389.5" cy="690.6" rx="18.0" ry="10.8" transform="rotate(5 389.5 690.6)"/><ellipse cx="295.8" cy="691.8" rx="11.1" ry="7.4" transform="rotate(10 295.8 691.8)"/><ellipse cx="274.5" cy="693.8" rx="13.5" ry="10.2" transform="rotate(-75 274.5 693.8)"/><ellipse cx="360.1" cy="695.0" rx="17.1" ry="9.3" transform="rotate(22 360.1 695.0)"/><ellipse cx="226.5" cy="698.0" rx="9.9" ry="7.1" transform="rotate(50 226.5 698.0)"/><ellipse cx="246.4" cy="698.5" rx="17.1" ry="12.7" transform="rotate(80 246.4 698.5)"/><ellipse cx="396.2" cy="704.7" rx="14.4" ry="7.4" transform="rotate(-12 396.2 704.7)"/><ellipse cx="317.8" cy="704.1" rx="17.1" ry="12.1" transform="rotate(-40 317.8 704.1)"/><ellipse cx="189.0" cy="705.6" rx="17.1" ry="12.1" transform="rotate(75 189.0 705.6)"/><ellipse cx="287.6" cy="707.7" rx="16.5" ry="10.8" transform="rotate(-5 287.6 707.7)"/><ellipse cx="163.3" cy="707.5" rx="14.4" ry="11.5" transform="rotate(20 163.3 707.5)"/><ellipse cx="218.0" cy="711.4" rx="18.0" ry="12.1" transform="rotate(20 218.0 711.4)"/><ellipse cx="380.0" cy="712.9" rx="13.5" ry="7.8" transform="rotate(12 380.0 712.9)"/><ellipse cx="337.2" cy="713.5" rx="12.6" ry="9.3" transform="rotate(85 337.2 713.5)"/><ellipse cx="258.7" cy="714.4" rx="12.9" ry="9.7" transform="rotate(-60 258.7 714.4)"/><ellipse cx="356.0" cy="716.5" rx="16.2" ry="11.5" transform="rotate(80 356.0 716.5)"/><ellipse cx="314.7" cy="727.0" rx="16.5" ry="8.9" transform="rotate(-8 314.7 727.0)"/><ellipse cx="375.0" cy="727.0" rx="12.9" ry="9.7" transform="rotate(25 375.0 727.0)"/><ellipse cx="281.1" cy="727.0" rx="17.1" ry="10.6" transform="rotate(10 281.1 727.0)"/><ellipse cx="236.2" cy="729.3" rx="15.8" ry="9.7" transform="rotate(-12 236.2 729.3)"/><ellipse cx="262.6" cy="731.1" rx="8.6" ry="6.5" transform="rotate(20 262.6 731.1)"/><ellipse cx="206.2" cy="730.2" rx="15.3" ry="9.7" transform="rotate(12 206.2 730.2)"/><ellipse cx="332.4" cy="737.2" rx="19.8" ry="12.1" transform="rotate(-5 332.4 737.2)"/><ellipse cx="253.2" cy="745.9" rx="17.1" ry="10.6" transform="rotate(5 253.2 745.9)"/><ellipse cx="279.8" cy="747.8" rx="12.6" ry="9.3" transform="rotate(85 279.8 747.8)"/><ellipse cx="302.9" cy="747.4" rx="14.4" ry="12.1" transform="rotate(60 302.9 747.4)"/></g>
<g transform="translate(278.4 588.2) rotate(-5)">
<ellipse rx="16.1" ry="6.3" fill="url(#bg3)" stroke="#8e6b5a" stroke-opacity="0.55" stroke-width="0.7"/>
<path d="M9.0,-4.0l2.0,-0.1M4.1,-2.1l2.0,-0.1M-5.0,-1.7l1.2,-0.6M-13.5,-1.3l1.7,0.2M-8.0,2.4l1.9,0.4M-9.6,-3.7l0.5,-0.4M8.3,-3.1l1.9,-0.5M-5.7,-1.4l0.9,-0.3M4.8,0.1l1.7,-0.2M-13.4,-1.7l0.6,-0.2M0.5,-4.1l0.6,0.0M4.1,1.3l0.9,-0.6M12.1,0.5l0.7,0.5M8.7,1.2l1.8,-0.2M-6.3,-1.1l1.7,-0.4M-1.1,1.1l1.1,0.7" stroke="#6f5246" stroke-width="0.95" stroke-linecap="round" fill="none" opacity="0.45"/>
</g>
<g transform="translate(325.4 591.7) rotate(-5)">
<ellipse rx="16.7" ry="6.3" fill="url(#bg1)" stroke="#8e6b5a" stroke-opacity="0.55" stroke-width="0.7"/>
<path d="M0.1,2.0l0.6,0.2M5.0,3.9l1.2,-0.6M-0.7,-2.2l1.5,-0.9M-6.4,1.3l0.8,0.6M2.8,-3.1l2.0,-0.9M-11.1,3.3l1.5,-0.9M7.3,-0.2l0.9,0.4M-4.1,2.8l0.5,-0.3M-6.8,-1.5l1.6,-0.3M-14.2,1.6l1.4,0.1M4.6,-1.9l0.7,0.4M3.3,-2.7l0.8,0.3M6.6,-1.0l2.0,1.2M-8.0,-2.3l0.6,-0.4M7.5,-0.7l1.7,-0.6M5.3,-4.0l1.0,-0.5M-0.9,-1.7l0.9,0.1" stroke="#6f5246" stroke-width="0.95" stroke-linecap="round" fill="none" opacity="0.45"/>
</g>
<g transform="translate(301.1 596.1) rotate(0)">
<ellipse rx="8.5" ry="4.9" fill="url(#bg0)" stroke="#8e6b5a" stroke-opacity="0.55" stroke-width="0.7"/>
<path d="M-1.4,4.2l0.7,-0.6M-0.6,3.0l0.6,-0.3M-4.0,2.5l0.7,-0.1M6.0,-2.8l1.7,0.5M-2.7,-0.9l0.4,-0.4M5.5,-2.0l1.8,-1.4M-3.6,-2.4l1.8,-0.5M2.4,-0.0l1.5,0.5M5.4,-2.3l1.7,0.7M4.1,-1.4l1.5,1.0M3.5,-2.1l1.7,1.0" stroke="#6f5246" stroke-width="0.95" stroke-linecap="round" fill="none" opacity="0.45"/>
</g>
<g transform="translate(249.4 595.8) rotate(-35)">
<ellipse rx="14.2" ry="9.4" fill="url(#bg0)" stroke="#8e6b5a" stroke-opacity="0.55" stroke-width="0.7"/>
<path d="M-5.8,-3.8l1.6,0.2M9.1,3.3l2.1,1.2M-1.1,-5.4l1.9,0.2M-11.1,2.9l0.6,0.2M9.9,1.2l1.3,-0.5M-2.9,-5.8l1.4,0.9M-0.1,1.6l1.0,0.3M1.7,3.6l2.2,0.5M-11.4,2.9l1.1,0.3M2.7,5.4l1.7,1.1M6.0,-3.7l1.6,-0.4M6.1,4.6l1.8,1.0M-3.0,-8.1l0.9,-0.5M-6.7,1.4l0.9,-0.1M-6.5,-4.3l1.0,0.5M8.8,-0.7l0.5,-0.4M2.3,-1.6l1.8,0.2M-4.2,7.1l0.5,-0.3M-2.8,0.5l1.9,-0.7" stroke="#6f5246" stroke-width="0.95" stroke-linecap="round" fill="none" opacity="0.45"/>
</g>
<g transform="translate(276.6 597.9) rotate(-10)">
<ellipse rx="12.9" ry="7.9" fill="url(#bg1)" stroke="#8e6b5a" stroke-opacity="0.55" stroke-width="0.7"/>
<path d="M3.4,-6.8l0.6,-0.4M-9.2,-1.3l1.0,-0.7M3.4,6.2l0.9,0.3M0.3,-5.3l0.5,-0.2M1.6,-5.2l2.3,0.0M5.0,-0.1l2.0,0.6M1.2,4.6l2.2,-0.3M-5.2,1.0l1.7,-1.4M-9.1,-1.8l1.3,0.6M-3.8,3.5l2.0,-1.3M7.0,-4.8l1.9,-1.1M0.4,4.5l0.6,-0.2M11.2,-1.0l1.0,0.3M8.4,0.5l0.6,-0.1M-5.6,1.8l2.1,-0.9M5.3,-3.5l0.6,0.0" stroke="#6f5246" stroke-width="0.95" stroke-linecap="round" fill="none" opacity="0.45"/>
</g>
<g transform="translate(353.0 598.8) rotate(10)">
<ellipse rx="18.0" ry="7.5" fill="url(#bg1)" stroke="#8e6b5a" stroke-opacity="0.55" stroke-width="0.7"/>
<path d="M-16.1,1.2l2.2,0.1M-4.8,-4.1l2.2,0.2M-5.4,-5.5l1.3,0.1M6.1,-4.5l0.8,0.0M7.2,-2.0l1.4,1.1M8.8,-3.9l0.9,-0.5M-8.5,-1.0l1.4,-0.2M2.2,0.8l1.2,0.1M15.1,1.8l1.2,1.0M4.0,1.6l0.7,0.5M-15.2,1.7l2.0,-0.3M0.3,4.8l1.0,0.6M14.5,-2.6l1.3,-0.8M-3.3,0.8l1.0,0.3M4.0,-0.2l0.6,-0.5M-3.0,5.7l1.0,-0.0M-12.6,0.0l2.1,0.4M-2.8,-5.6l1.7,-1.3M-10.0,-4.6l1.7,0.1" stroke="#6f5246" stroke-width="0.95" stroke-linecap="round" fill="none" opacity="0.45"/>
</g>
<g transform="translate(315.2 602.3) rotate(0)">
<ellipse rx="7.6" ry="6.9" fill="url(#bg1)" stroke="#8e6b5a" stroke-opacity="0.55" stroke-width="0.7"/>
<path d="M-6.3,-1.1l1.5,0.8M0.6,5.4l1.7,1.1M-1.6,3.3l2.1,-0.9M6.5,-0.1l0.7,-0.3M-0.5,-3.3l0.6,0.3M-5.4,2.6l0.7,-0.1M-0.6,-1.2l0.9,0.2M5.8,-3.3l0.7,0.0M0.3,-4.5l1.6,-0.8M2.2,1.0l0.6,0.0M-5.2,-0.4l0.7,-0.3M1.8,5.5l2.0,1.3" stroke="#6f5246" stroke-width="0.95" stroke-linecap="round" fill="none" opacity="0.45"/>
</g>
<g transform="translate(331.9 604.0) rotate(20)">
<ellipse rx="11.7" ry="8.8" fill="url(#bg0)" stroke="#8e6b5a" stroke-opacity="0.55" stroke-width="0.7"/>
<path d="M-3.7,-1.5l1.5,-1.0M5.6,2.9l1.3,-0.3M1.7,4.9l1.4,-1.0M2.1,5.0l1.2,-0.2M7.4,-3.0l0.6,0.3M-1.6,2.4l1.8,1.1M8.7,-4.2l1.4,-0.7M-5.5,-2.4l1.9,-0.6M6.9,4.6l0.7,0.5M4.2,3.5l1.5,-0.3M-4.4,1.5l0.8,-0.4M1.8,-4.3l0.6,0.4M10.2,-0.5l0.6,-0.2M5.8,-1.1l0.9,-0.1M1.4,2.3l1.5,-0.0M0.9,3.0l1.2,0.1M2.9,1.9l0.9,-0.1" stroke="#6f5246" stroke-width="0.95" stroke-linecap="round" fill="none" opacity="0.45"/>
</g>
<g transform="translate(347.8 606.3) rotate(15)">
<ellipse rx="12.3" ry="5.9" fill="url(#bg0)" stroke="#8e6b5a" stroke-opacity="0.55" stroke-width="0.7"/>
<path d="M0.6,-4.3l0.5,-0.2M-1.1,3.2l1.5,-0.2M-10.3,-0.6l0.7,-0.1M-5.2,-3.2l1.4,1.1M-8.2,3.4l1.0,0.8M5.1,-3.1l1.6,-0.2M-6.2,0.1l1.2,-0.3M-7.8,-0.7l0.8,0.6M-5.0,-4.0l0.5,0.2M-7.7,-2.2l1.2,0.3M6.1,1.0l1.2,0.1M-1.1,-3.1l1.9,-0.8M-1.1,-2.7l1.6,-1.2M8.2,2.8l2.0,-1.1" stroke="#6f5246" stroke-width="0.95" stroke-linecap="round" fill="none" opacity="0.45"/>
</g>
<g transform="translate(297.2 605.8) rotate(-20)">
<ellipse rx="16.1" ry="11.4" fill="url(#bg1)" stroke="#8e6b5a" stroke-opacity="0.55" stroke-width="0.7"/>
<path d="M-4.3,-2.3l1.7,-0.1M1.2,2.7l1.3,-0.8M-11.3,3.0l1.3,-0.4M-8.4,-3.4l2.0,0.1M14.3,-0.2l1.8,-0.7M10.5,6.4l2.0,0.3M-5.0,4.3l1.8,0.2M-9.9,-4.5l1.8,-0.8M0.1,10.3l1.9,1.1M4.1,0.7l1.0,-0.1M-3.7,-2.6l1.3,-0.9M10.4,4.4l1.5,0.3M-7.2,5.2l0.9,-0.2M-0.4,-9.5l0.6,-0.3M4.2,-7.7l1.8,-0.8M-6.9,2.5l2.0,-0.4M-8.3,-8.5l1.1,0.1M-0.3,-10.0l1.3,-0.2M11.3,5.6l0.5,-0.4M-9.5,-2.9l1.7,-0.5M0.7,-3.2l0.9,0.2M7.2,2.9l1.8,0.5M-1.2,4.1l1.1,0.4M-3.7,2.9l1.8,0.2" stroke="#6f5246" stroke-width="0.95" stroke-linecap="round" fill="none" opacity="0.45"/>
</g>
<g transform="translate(230.0 608.4) rotate(0)">
<ellipse rx="7.6" ry="7.9" fill="url(#bg2)" stroke="#8e6b5a" stroke-opacity="0.55" stroke-width="0.7"/>
<path d="M-5.7,2.4l1.0,-0.3M-5.4,4.1l2.1,-0.8M-2.8,3.4l1.2,-0.2M-2.4,2.2l1.4,0.6M-6.1,-1.7l1.4,-0.7M0.4,-6.7l0.8,-0.6M-5.1,-0.5l1.3,1.0M-3.6,-5.2l0.6,0.0M0.5,-2.3l0.6,0.2M1.8,-1.4l1.5,-0.8M-0.1,-5.8l0.9,-0.4M0.5,-5.2l1.9,-0.3" stroke="#6f5246" stroke-width="0.95" stroke-linecap="round" fill="none" opacity="0.45"/>
</g>
<g transform="translate(213.3 611.1) rotate(10)">
<ellipse rx="11.4" ry="8.6" fill="url(#bg2)" stroke="#8e6b5a" stroke-opacity="0.55" stroke-width="0.7"/>
<path d="M2.2,-4.4l0.8,-0.0M1.1,-2.3l1.3,-1.0M0.5,-7.8l0.9,-0.7M-2.5,1.8l1.4,0.1M6.3,0.7l0.4,-0.3M8.8,-3.5l0.9,-0.4M-5.7,-4.9l1.1,-0.2M-5.5,-0.8l2.2,-0.1M-0.7,-4.4l0.7,0.4M7.7,-3.6l0.5,-0.0M1.9,-4.3l0.9,-0.2M-6.9,-3.2l1.4,0.0M-9.2,2.7l1.1,0.7M7.6,-2.4l2.3,0.2M4.4,-4.4l1.0,0.8M-4.9,-5.9l0.6,0.3" stroke="#6f5246" stroke-width="0.95" stroke-linecap="round" fill="none" opacity="0.45"/>
</g>
<g transform="translate(323.1 612.8) rotate(-3)">
<ellipse rx="18.9" ry="7.1" fill="url(#bg3)" stroke="#8e6b5a" stroke-opacity="0.55" stroke-width="0.7"/>
<path d="M16.0,1.9l2.0,-0.3M-12.4,-0.8l0.8,0.6M-4.8,-2.7l0.5,-0.0M-10.7,4.2l1.8,0.3M4.0,2.3l1.0,-0.4M8.5,-3.4l1.3,1.1M-1.3,4.7l0.7,0.3M15.7,0.1l1.9,0.9M8.1,1.7l1.6,-1.0M-11.9,0.6l2.3,0.3M6.1,-2.8l2.0,-0.2M5.1,-1.1l1.9,-0.8M-12.2,-1.3l0.7,0.4M-3.7,3.4l0.6,-0.2M-14.4,1.1l1.1,0.3M8.7,2.5l1.1,0.8M6.7,-4.6l0.5,-0.1M-2.2,-3.2l1.6,-0.1M17.1,0.4l1.9,-0.8" stroke="#6f5246" stroke-width="0.95" stroke-linecap="round" fill="none" opacity="0.45"/>
</g>
<g transform="translate(247.9 613.2) rotate(-10)">
<ellipse rx="17.1" ry="9.4" fill="url(#bg1)" stroke="#8e6b5a" stroke-opacity="0.55" stroke-width="0.7"/>
<path d="M-2.4,5.2l1.5,-0.4M-5.2,4.7l1.7,-0.6M4.1,7.0l0.9,0.7M-12.3,-2.8l1.0,0.5M5.2,1.9l0.7,0.2M-1.8,-3.7l1.1,0.6M-4.4,-1.6l0.8,-0.4M7.2,3.9l0.5,0.4M-10.1,2.7l1.6,0.6M4.3,-4.9l1.1,-0.1M10.0,0.5l1.4,1.1M3.1,-6.8l1.3,-1.0M-4.5,4.5l1.5,-0.9M-8.1,4.3l1.8,0.9M-5.0,-2.3l1.7,1.0M-9.0,-1.6l1.3,-0.7M-3.5,-8.3l1.4,0.4M3.7,-3.4l2.3,0.4M1.6,2.7l1.0,0.1M-3.0,-4.8l2.2,-0.4M-5.8,0.8l2.1,-1.1M9.5,-3.6l1.6,0.1" stroke="#6f5246" stroke-width="0.95" stroke-linecap="round" fill="none" opacity="0.45"/>
</g>
<g transform="translate(369.8 614.1) rotate(0)">
<ellipse rx="8.5" ry="8.8" fill="url(#bg2)" stroke="#8e6b5a" stroke-opacity="0.55" stroke-width="0.7"/>
<path d="M3.3,6.1l2.1,-0.5M4.6,6.2l0.5,0.1M-4.4,5.3l1.1,-0.5M-5.7,-4.2l1.4,-0.2M1.5,-7.6l2.1,-1.2M0.3,-7.4l2.2,0.4M-4.3,-5.4l0.8,-0.1M5.6,1.2l0.7,-0.1M-1.6,2.7l0.8,0.5M6.5,2.4l1.7,0.7M-4.6,3.3l0.7,-0.1M5.9,-4.7l1.6,-0.2M-1.4,7.4l1.2,0.7M-2.6,-6.8l0.6,-0.4" stroke="#6f5246" stroke-width="0.95" stroke-linecap="round" fill="none" opacity="0.45"/>
</g>
<g transform="translate(396.5 617.2) rotate(0)">
<ellipse rx="8.5" ry="8.2" fill="url(#bg2)" stroke="#8e6b5a" stroke-opacity="0.55" stroke-width="0.7"/>
<path d="M-5.1,-0.8l2.1,-0.6M6.3,2.2l2.1,0.7M-5.5,-3.8l1.1,0.1M2.7,1.2l1.3,0.0M-1.7,1.3l1.8,0.1M0.3,4.3l1.2,-0.5M6.7,3.0l2.3,0.5M3.4,-3.7l1.9,-0.8M-0.1,-5.7l1.9,-1.2M0.8,-2.8l1.2,0.9M4.0,0.0l1.0,-0.3M6.8,2.7l2.0,-0.3M-3.7,4.5l0.5,-0.4" stroke="#6f5246" stroke-width="0.95" stroke-linecap="round" fill="none" opacity="0.45"/>
</g>
<g transform="translate(354.3 617.2) rotate(-15)">
<ellipse rx="15.2" ry="9.4" fill="url(#bg2)" stroke="#8e6b5a" stroke-opacity="0.55" stroke-width="0.7"/>
<path d="M-3.5,5.7l1.8,1.4M-6.5,0.7l0.9,0.6M5.1,-2.4l2.0,-0.4M-6.0,0.6l1.7,1.4M3.3,6.6l0.7,0.4M4.7,1.0l1.8,-0.5M10.4,-4.7l1.6,-0.9M-4.5,-7.8l1.1,-0.7M1.3,4.8l1.7,-0.8M2.9,3.9l1.6,0.7M-7.9,5.0l2.2,0.3M1.0,4.8l2.2,0.5M-1.9,6.8l0.5,0.4M-9.4,2.3l1.2,-0.9M-6.2,-2.8l0.9,0.4M6.5,2.5l1.8,-0.7M-1.9,6.3l0.7,0.5M3.3,-0.2l1.3,0.5M-10.0,5.5l1.3,-0.6M-10.5,-2.4l1.2,0.3" stroke="#6f5246" stroke-width="0.95" stroke-linecap="round" fill="none" opacity="0.45"/>
</g>
<g transform="translate(200.1 621.1) rotate(0)">
<ellipse rx="10.4" ry="7.1" fill="url(#bg0)" stroke="#8e6b5a" stroke-opacity="0.55" stroke-width="0.7"/>
<path d="M-6.8,-0.5l2.0,0.5M-9.2,-0.8l0.8,0.3M3.8,4.4l0.9,-0.1M1.2,-5.7l1.9,-0.7M-4.6,0.2l1.6,-0.0M7.2,1.1l1.8,0.2M3.0,-2.1l0.6,-0.5M-6.4,0.1l1.3,-0.4M0.9,-1.9l2.2,0.2M-8.2,-1.5l0.8,-0.5M-0.9,1.5l1.1,0.2M-5.0,-0.5l1.4,-0.9M1.8,-2.6l0.9,-0.5M-3.2,-5.5l1.6,-1.1" stroke="#6f5246" stroke-width="0.95" stroke-linecap="round" fill="none" opacity="0.45"/>
</g>
<g transform="translate(275.2 621.6) rotate(5)">
<ellipse rx="15.9" ry="9.8" fill="url(#bg3)" stroke="#8e6b5a" stroke-opacity="0.55" stroke-width="0.7"/>
<path d="M-11.9,1.6l1.5,1.1M8.7,5.6l1.4,-0.8M-0.4,-6.5l1.8,-1.5M-9.0,3.5l0.7,0.1M-13.8,1.5l2.3,0.6M-2.9,-8.6l1.6,-0.5M9.9,5.6l1.1,-0.7M1.2,5.1l1.9,1.3M1.2,3.7l1.2,1.0M-0.9,-6.8l1.9,1.1M5.7,-1.8l1.7,1.2M2.1,5.5l0.6,-0.1M0.3,8.0l2.0,-0.1M-9.1,4.1l1.9,-0.1M-11.5,0.4l0.8,-0.0M-9.2,-1.5l0.6,-0.2M10.9,-2.2l1.4,0.5M-11.0,-0.5l1.6,-0.7M3.3,1.5l1.7,0.7M4.8,3.5l1.8,-1.1M13.3,-0.1l1.2,0.6M-5.6,3.2l2.1,0.5" stroke="#6f5246" stroke-width="0.95" stroke-linecap="round" fill="none" opacity="0.45"/>
</g>
<g transform="translate(389.5 625.7) rotate(50)">
<ellipse rx="16.1" ry="9.8" fill="url(#bg2)" stroke="#8e6b5a" stroke-opacity="0.55" stroke-width="0.7"/>
<path d="M-5.9,2.8l0.5,-0.3M-2.9,-1.2l1.1,-0.1M-5.6,-1.0l1.7,-0.6M-1.8,-7.3l0.7,-0.3M-2.4,7.4l1.3,-0.2M4.8,-3.3l1.0,-0.2M0.8,2.2l0.5,0.1M-12.1,-3.2l2.3,-0.7M-6.7,-7.5l0.9,0.2M-7.2,-7.6l2.0,-0.8M-3.3,-2.2l1.3,-0.2M8.6,2.1l1.1,-0.0M-1.2,3.7l1.3,-0.0M6.0,6.4l0.8,-0.5M-5.3,5.0l0.8,0.1M-3.3,-6.4l1.4,-1.1M-7.0,3.5l0.6,-0.1M9.8,2.1l1.6,-0.1M-3.5,4.2l0.5,-0.1M8.7,-4.3l1.0,0.2M4.0,5.7l1.3,1.0M-7.3,5.2l2.1,0.8" stroke="#6f5246" stroke-width="0.95" stroke-linecap="round" fill="none" opacity="0.45"/>
</g>
<g transform="translate(303.2 626.0) rotate(-5)">
<ellipse rx="15.2" ry="8.8" fill="url(#bg0)" stroke="#8e6b5a" stroke-opacity="0.55" stroke-width="0.7"/>
<path d="M-6.5,-3.6l1.2,-0.4M6.2,-6.6l1.0,0.7M5.3,0.8l1.4,-0.4M-8.7,6.1l0.7,-0.3M1.5,6.6l0.7,-0.6M-8.5,-1.4l1.0,-0.0M-6.1,-4.9l1.7,0.1M6.6,-6.9l1.1,-0.2M6.0,-3.0l1.8,0.5M-5.3,-7.3l1.8,-0.9M-7.1,-3.9l1.5,-0.3M-2.7,6.8l1.4,-0.5M0.0,4.7l0.8,0.0M2.9,1.7l0.5,-0.3M-1.4,-2.8l1.3,0.5M-5.9,0.4l1.9,1.1M6.8,1.4l1.3,0.6M-9.2,4.3l0.9,0.3M-3.8,4.2l1.7,0.9" stroke="#6f5246" stroke-width="0.95" stroke-linecap="round" fill="none" opacity="0.45"/>
</g>
<g transform="translate(229.1 627.4) rotate(25)">
<ellipse rx="13.3" ry="8.8" fill="url(#bg1)" stroke="#8e6b5a" stroke-opacity="0.55" stroke-width="0.7"/>
<path d="M-7.3,-2.2l1.8,0.3M5.3,-6.3l0.7,-0.1M-2.9,-3.5l0.7,-0.5M-10.1,-4.0l2.0,-1.1M-3.0,-4.9l1.7,-0.2M11.0,-3.3l0.6,0.2M2.3,1.4l1.0,0.3M4.6,-0.1l0.9,-0.7M-8.2,-1.5l1.2,-0.3M3.5,-7.0l1.0,-0.2M-7.8,-4.8l2.3,-0.4M-3.1,-5.6l1.8,-1.0M2.0,2.6l2.1,-0.8M-4.6,0.2l0.9,-0.7M-4.5,-1.3l1.6,-0.5M1.2,5.6l1.1,-0.4M3.4,0.8l2.1,-0.6M4.8,1.7l1.1,0.9" stroke="#6f5246" stroke-width="0.95" stroke-linecap="round" fill="none" opacity="0.45"/>
</g>
<g transform="translate(410.6 628.7) rotate(-25)">
<ellipse rx="11.4" ry="8.2" fill="url(#bg1)" stroke="#8e6b5a" stroke-opacity="0.55" stroke-width="0.7"/>
<path d="M6.7,-0.3l0.5,-0.1M-7.3,-2.1l0.9,0.1M2.5,-3.5l0.8,-0.2M0.0,6.8l1.3,0.9M9.2,2.0l2.3,0.1M-2.5,-3.6l0.5,0.0M6.6,2.0l1.8,-1.3M-6.0,5.0l0.9,-0.4M6.6,-2.4l1.1,0.0M-4.7,-5.8l1.6,1.1M-9.5,0.8l1.1,0.7M-1.4,-1.0l0.7,-0.2M-1.2,-5.3l0.8,0.7M-4.9,-3.7l0.9,-0.6M-4.6,-4.8l0.9,-0.4M1.2,1.8l0.7,-0.2" stroke="#6f5246" stroke-width="0.95" stroke-linecap="round" fill="none" opacity="0.45"/>
</g>
<g transform="translate(332.8 628.2) rotate(10)">
<ellipse rx="17.1" ry="11.4" fill="url(#bg1)" stroke="#8e6b5a" stroke-opacity="0.55" stroke-width="0.7"/>
<path d="M2.5,3.3l0.8,-0.2M-2.6,0.8l1.4,-0.2M-5.0,6.9l2.1,-0.9M6.6,-4.1l1.6,-1.0M10.3,-0.5l2.2,-0.9M-11.0,4.8l0.8,-0.3M-6.7,-9.1l1.0,-0.5M-9.6,8.1l0.8,0.1M-9.0,5.8l0.9,0.1M11.0,-6.2l1.7,0.0M-5.2,-1.6l2.0,0.5M-12.2,2.5l1.3,-0.2M1.5,8.0l1.6,0.0M12.1,1.7l1.3,0.2M-12.4,-5.6l0.8,-0.0M13.4,-0.4l1.0,0.4M10.0,-0.4l1.9,-1.1M11.0,-0.5l0.8,0.4M-8.9,-8.1l1.9,0.8M-15.4,-0.8l0.5,0.3M-1.9,-5.2l2.0,-0.1M-14.1,-2.2l0.8,-0.3M-3.0,-2.5l1.4,0.6M-7.9,0.3l1.8,1.0M1.5,-7.7l2.0,0.9" stroke="#6f5246" stroke-width="0.95" stroke-linecap="round" fill="none" opacity="0.45"/>
</g>
<g transform="translate(252.3 629.6) rotate(10)">
<ellipse rx="12.9" ry="7.9" fill="url(#bg1)" stroke="#8e6b5a" stroke-opacity="0.55" stroke-width="0.7"/>
<path d="M2.0,-3.0l0.9,0.6M5.5,-1.0l1.0,-0.1M-2.1,-1.1l1.8,-0.1M-3.9,0.2l1.7,0.1M-4.7,6.4l2.3,0.2M7.4,-0.2l2.0,0.6M6.4,-5.8l1.6,-0.7M2.6,6.1l0.8,0.1M6.2,1.0l1.0,-0.2M-4.8,-2.8l0.4,-0.3M2.8,5.9l2.0,0.8M1.1,2.1l1.0,-0.2M-4.9,-2.5l0.7,-0.4M7.0,2.9l1.3,-0.0M3.3,1.8l1.7,1.3M8.4,2.7l0.9,-0.0" stroke="#6f5246" stroke-width="0.95" stroke-linecap="round" fill="none" opacity="0.45"/>
</g>
<g transform="translate(180.2 630.4) rotate(-5)">
<ellipse rx="12.9" ry="7.1" fill="url(#bg1)" stroke="#8e6b5a" stroke-opacity="0.55" stroke-width="0.7"/>
<path d="M-0.4,-5.0l1.1,-0.8M-5.6,1.7l1.1,0.8M-2.6,5.2l1.7,-0.6M-3.9,1.3l2.1,-0.7M-6.2,1.8l1.8,1.0M-7.4,-2.6l0.6,0.4M6.1,2.1l1.2,0.4M-3.4,-3.4l1.8,1.3M9.3,0.8l1.4,-0.3M-6.6,0.8l1.8,0.3M11.4,-1.2l2.4,-0.3M4.5,-4.6l1.4,1.2M7.4,1.8l1.2,0.3M2.3,6.3l0.9,-0.2M4.7,3.2l1.6,-1.1" stroke="#6f5246" stroke-width="0.95" stroke-linecap="round" fill="none" opacity="0.45"/>
</g>
<g transform="translate(368.9 629.9) rotate(12)">
<ellipse rx="18.0" ry="9.4" fill="url(#bg1)" stroke="#8e6b5a" stroke-opacity="0.55" stroke-width="0.7"/>
<path d="M13.3,-1.9l1.7,1.1M-8.4,-7.2l1.2,0.7M-6.3,1.5l1.2,-0.2M7.6,-7.0l0.7,-0.1M-15.0,-3.2l1.7,-1.1M12.4,-0.0l0.6,-0.2M-6.2,-5.3l1.1,-0.2M0.3,6.7l1.1,0.9M-6.1,-2.0l0.6,-0.3M11.9,-4.6l1.3,-0.7M-6.7,-1.5l1.3,1.0M-1.4,-3.1l1.9,-0.8M1.7,-3.0l1.9,-0.3M-3.6,6.5l1.3,-0.0M10.4,-3.4l1.8,0.7M-7.1,3.1l0.9,0.0M-5.9,-4.7l2.0,-0.9M12.4,-0.3l0.6,0.5M5.1,-1.3l1.6,-0.5M-6.5,-2.5l0.6,0.3M-10.0,4.6l1.0,-0.6M-4.5,5.9l0.8,-0.1M-6.6,7.0l1.7,0.5" stroke="#6f5246" stroke-width="0.95" stroke-linecap="round" fill="none" opacity="0.45"/>
</g>
<g transform="translate(209.2 631.7) rotate(15)">
<ellipse rx="16.1" ry="8.2" fill="url(#bg0)" stroke="#8e6b5a" stroke-opacity="0.55" stroke-width="0.7"/>
<path d="M-4.1,4.9l0.9,0.3M-2.7,0.1l1.0,0.8M11.4,0.3l2.3,-0.4M-7.4,-2.7l1.1,0.2M-7.2,-2.3l1.4,0.0M0.1,-2.1l0.6,-0.2M-1.7,6.7l1.1,0.6M-6.6,2.4l1.5,-1.0M13.3,-0.7l1.1,-0.3M5.5,-6.1l1.4,-1.0M0.3,-2.0l1.7,0.1M10.6,-2.7l0.4,0.3M0.2,-5.8l0.5,0.2M-10.6,3.1l2.0,1.3M11.6,3.0l1.3,0.5M-7.2,3.5l1.1,-0.7M-5.4,5.9l0.5,-0.3M6.1,-5.3l1.3,-0.8M6.2,2.9l2.3,0.2" stroke="#6f5246" stroke-width="0.95" stroke-linecap="round" fill="none" opacity="0.45"/>
</g>
<g transform="translate(302.0 638.4) rotate(-75)">
<ellipse rx="13.6" ry="10.8" fill="url(#bg1)" stroke="#8e6b5a" stroke-opacity="0.55" stroke-width="0.7"/>
<path d="M6.0,3.3l0.6,0.4M3.8,4.4l1.1,0.7M5.3,-2.0l1.8,-0.0M-10.3,3.4l1.5,-0.0M-11.0,-2.8l1.9,-0.5M11.3,0.8l1.7,-0.3M3.4,-7.7l1.3,0.2M-10.6,2.0l0.7,0.2M-3.3,2.0l1.4,0.3M-4.8,5.2l0.5,0.3M2.1,-4.9l0.9,-0.4M3.1,-1.6l0.8,-0.1M-7.7,-1.2l0.7,-0.3M-7.5,-5.6l1.3,-0.7M7.5,-0.2l0.8,-0.0M-8.4,0.4l2.3,-0.5M-2.1,4.8l0.6,0.5M6.9,-6.5l1.0,-0.5M2.0,4.0l2.4,-0.4M-2.0,3.2l1.8,0.8M-8.8,-5.6l2.0,-1.2" stroke="#6f5246" stroke-width="0.95" stroke-linecap="round" fill="none" opacity="0.45"/>
</g>
<g transform="translate(407.6 641.0) rotate(-8)">
<ellipse rx="14.2" ry="5.5" fill="url(#bg2)" stroke="#8e6b5a" stroke-opacity="0.55" stroke-width="0.7"/>
<path d="M9.5,0.5l0.9,-0.3M-0.1,2.0l1.3,-0.4M-1.5,2.7l1.3,0.7M6.4,3.9l2.1,0.3M-10.7,-1.2l1.5,0.3M10.0,-2.1l0.8,-0.6M7.3,-1.2l1.9,-0.7M-7.7,0.9l1.5,1.1M-9.8,-0.1l1.1,-0.4M4.5,-0.6l2.2,0.5M11.1,2.1l0.7,0.1M9.4,3.4l0.9,0.5M9.8,1.5l0.5,-0.4M-11.6,-2.1l1.6,0.9" stroke="#6f5246" stroke-width="0.95" stroke-linecap="round" fill="none" opacity="0.45"/>
</g>
<g transform="translate(258.2 641.5) rotate(-20)">
<ellipse rx="11.4" ry="8.8" fill="url(#bgd)" stroke="#8e6b5a" stroke-opacity="0.55" stroke-width="0.7"/>
<path d="M1.6,-5.7l0.6,0.0M3.0,5.4l1.2,-0.0M2.8,6.4l1.3,-0.0M6.4,2.7l1.2,1.0M-3.8,-1.2l1.0,-0.2M-3.0,-7.4l1.9,1.4M8.6,-3.4l1.8,-1.4M-8.0,0.4l1.8,0.3M-7.6,-5.1l0.7,0.0M2.4,-0.5l0.6,0.4M2.2,-0.5l0.5,0.2M-2.8,-5.4l1.5,0.6M0.6,-1.2l0.6,0.3M9.4,-1.1l1.2,-0.3M-1.2,1.3l1.9,-0.6M-6.5,-3.0l1.1,0.3" stroke="#6f5246" stroke-width="0.95" stroke-linecap="round" fill="none" opacity="0.45"/>
</g>
<g transform="translate(349.5 642.2) rotate(20)">
<ellipse rx="18.9" ry="12.2" fill="url(#bg3)" stroke="#8e6b5a" stroke-opacity="0.55" stroke-width="0.7"/>
<path d="M-9.7,-8.7l1.2,-0.5M2.8,7.3l0.8,0.5M5.7,8.4l1.6,0.2M-11.8,-3.8l0.5,-0.1M11.4,3.2l1.7,-0.8M8.7,1.2l0.7,0.2M-11.6,-0.2l0.6,0.0M9.2,7.0l0.5,-0.4M8.8,-9.5l1.3,0.3M1.9,11.0l0.8,0.5M-15.5,-4.1l0.5,0.4M4.1,-1.6l0.5,0.3M-6.5,2.1l0.6,-0.3M-8.5,0.2l1.0,-0.5M10.2,7.5l0.9,-0.7M1.2,9.3l0.8,0.4M10.7,-6.0l1.1,0.4M6.3,-2.1l1.7,1.3M-2.2,-9.1l0.7,-0.2M-8.1,-3.0l1.3,0.6M-14.5,3.5l0.8,-0.5M-2.0,-1.9l1.8,1.4M13.1,-3.7l0.7,0.5M-4.0,-3.0l1.2,0.7M-8.5,-3.9l2.4,-0.0M6.9,1.1l1.3,0.3M-12.3,3.2l1.5,-0.5M10.7,2.0l1.6,1.2M11.3,1.1l2.3,0.4" stroke="#6f5246" stroke-width="0.95" stroke-linecap="round" fill="none" opacity="0.45"/>
</g>
<g transform="translate(274.0 642.8) rotate(-15)">
<ellipse rx="18.0" ry="10.8" fill="url(#bg0)" stroke="#8e6b5a" stroke-opacity="0.55" stroke-width="0.7"/>
<path d="M-7.2,1.0l0.5,-0.1M8.4,1.3l1.6,-0.3M-12.9,1.3l1.1,-0.2M9.4,-5.0l1.3,0.1M-9.4,1.4l2.1,-0.8M14.0,-3.6l1.9,-1.0M-16.2,-0.5l0.9,-0.5M-1.4,-4.9l1.4,-0.7M8.5,-1.8l0.7,0.2M-7.1,6.1l1.2,0.8M-10.3,-0.6l0.5,-0.0M-1.5,7.5l1.7,-0.1M9.9,3.8l1.4,0.3M8.8,-1.0l1.1,-0.7M2.6,-4.7l1.9,0.8M-0.5,9.4l1.4,-0.2M-15.0,-3.3l1.4,-0.0M-3.8,8.7l1.4,-0.3M2.6,4.5l1.9,0.9M15.6,-1.3l1.6,0.7M-3.5,-8.6l1.8,-0.9M3.7,-5.1l0.8,0.5M11.7,1.0l1.1,0.5M-12.0,-6.0l2.2,0.5M12.4,3.2l0.6,0.4" stroke="#6f5246" stroke-width="0.95" stroke-linecap="round" fill="none" opacity="0.45"/>
</g>
<g transform="translate(230.0 646.3) rotate(0)">
<ellipse rx="8.0" ry="9.4" fill="url(#bg3)" stroke="#8e6b5a" stroke-opacity="0.55" stroke-width="0.7"/>
<path d="M-1.2,3.6l1.7,0.6M5.7,-0.6l0.7,0.2M6.3,2.9l1.8,0.8M3.9,-4.7l2.2,0.4M-4.6,0.3l0.9,-0.7M3.4,6.5l0.9,0.2M1.0,-7.1l1.4,-0.4M-0.5,3.9l1.7,0.4M4.0,-1.8l1.9,1.2M-1.8,8.1l1.3,1.0M0.6,-5.0l1.0,0.0M-1.8,0.2l2.1,0.1M-6.2,1.3l0.9,-0.4M-3.2,-2.1l0.9,-0.6" stroke="#6f5246" stroke-width="0.95" stroke-linecap="round" fill="none" opacity="0.45"/>
</g>
<g transform="translate(243.2 646.3) rotate(70)">
<ellipse rx="12.3" ry="9.4" fill="url(#bg0)" stroke="#8e6b5a" stroke-opacity="0.55" stroke-width="0.7"/>
<path d="M6.1,-1.2l1.9,1.0M-5.3,-0.8l2.1,0.9M3.1,-1.4l1.3,-0.0M-7.7,3.5l1.7,1.1M-10.9,-0.0l1.6,-0.2M3.7,0.2l0.7,0.5M-3.8,-2.6l2.2,0.9M-9.4,-4.2l0.9,0.4M3.1,0.6l0.5,0.4M5.0,-1.2l0.8,0.5M-1.8,-0.4l1.4,0.2M7.6,-6.3l1.3,0.6M0.3,7.8l0.8,0.5M-3.1,1.5l1.5,-0.5M-6.6,-2.4l1.2,0.4M-1.1,-6.8l0.8,-0.3M-0.6,-8.5l1.8,1.2M-4.3,-3.9l0.5,0.2" stroke="#6f5246" stroke-width="0.95" stroke-linecap="round" fill="none" opacity="0.45"/>
</g>
<g transform="translate(209.8 646.8) rotate(25)">
<ellipse rx="14.8" ry="8.8" fill="url(#bg3)" stroke="#8e6b5a" stroke-opacity="0.55" stroke-width="0.7"/>
<path d="M-0.9,-7.5l0.7,-0.5M6.0,2.4l0.9,0.2M2.5,5.2l0.7,-0.6M7.4,-4.6l0.6,0.2M-7.1,-4.3l1.7,0.4M-12.1,-0.2l1.9,1.2M6.0,1.8l0.9,0.1M-11.0,-4.6l1.3,-0.5M-3.2,6.0l0.7,0.1M-1.5,-6.0l1.1,0.6M-5.0,4.4l0.7,-0.1M5.0,-3.4l2.2,0.8M-8.8,2.3l0.6,-0.2M-2.3,-2.0l2.3,0.7M-4.4,4.2l1.3,-0.5M-3.7,-4.7l0.6,-0.5M0.2,-6.2l2.0,0.0M11.6,0.9l0.9,0.7M-6.0,6.8l2.0,-0.0" stroke="#6f5246" stroke-width="0.95" stroke-linecap="round" fill="none" opacity="0.45"/>
</g>
<g transform="translate(183.7 646.8) rotate(15)">
<ellipse rx="15.2" ry="11.8" fill="url(#bg3)" stroke="#8e6b5a" stroke-opacity="0.55" stroke-width="0.7"/>
<path d="M-3.0,9.4l1.1,-0.6M-7.5,-4.6l1.2,1.0M-12.2,-4.4l1.1,0.4M6.9,2.8l1.8,0.5M4.1,-5.9l1.0,-0.2M-3.0,-0.6l1.2,0.3M4.7,4.9l1.8,1.2M0.0,4.8l0.6,-0.4M3.3,-8.9l1.0,-0.0M-1.1,-2.3l1.8,1.0M2.8,8.8l1.8,-0.4M4.9,-3.6l1.4,-0.4M-11.7,3.5l1.6,0.2M6.8,-0.4l0.9,0.2M8.0,8.5l1.1,-0.1M-11.4,4.1l2.2,0.5M4.0,5.8l1.7,-0.7M9.6,-6.7l0.9,-0.2M1.6,9.1l0.6,0.2M11.7,3.8l1.5,0.2M3.0,1.6l0.9,0.7M-10.4,-5.9l0.5,-0.3M11.5,1.2l0.8,-0.3M-5.8,-7.8l1.1,-0.1" stroke="#6f5246" stroke-width="0.95" stroke-linecap="round" fill="none" opacity="0.45"/>
</g>
<g transform="translate(316.1 650.1) rotate(-60)">
<ellipse rx="13.6" ry="11.8" fill="url(#bg2)" stroke="#8e6b5a" stroke-opacity="0.55" stroke-width="0.7"/>
<path d="M0.5,2.3l0.7,-0.6M6.2,-2.8l0.5,-0.1M-4.7,2.4l0.7,-0.4M8.5,5.0l0.9,0.1M8.5,-6.9l2.0,-0.2M-1.3,-5.4l2.0,-0.4M-0.8,7.2l1.2,1.0M3.8,-9.3l1.0,-0.3M-7.8,5.5l0.6,-0.0M-7.6,-0.9l2.2,0.2M-7.5,1.5l1.9,-1.2M-6.2,-0.0l1.6,0.3M4.0,-3.6l0.7,0.0M-4.2,6.1l1.2,-0.9M-1.9,6.4l2.3,0.1M8.8,6.5l1.9,0.6M0.0,-7.3l2.0,1.3M-7.8,-4.4l0.6,0.2M9.8,3.9l1.0,-0.0M9.3,-3.4l1.6,1.3M8.7,-4.0l0.5,0.2M8.7,-3.8l0.9,-0.3" stroke="#6f5246" stroke-width="0.95" stroke-linecap="round" fill="none" opacity="0.45"/>
</g>
<g transform="translate(410.6 651.0) rotate(-5)">
<ellipse rx="15.5" ry="10.8" fill="url(#bg1)" stroke="#8e6b5a" stroke-opacity="0.55" stroke-width="0.7"/>
<path d="M10.3,-1.9l0.7,0.1M-1.0,8.9l1.8,0.7M3.2,0.8l1.8,-1.0M1.0,2.2l0.8,-0.0M7.9,-1.5l0.9,0.4M4.5,7.2l1.4,1.0M10.3,2.0l1.1,0.5M-0.2,8.4l0.9,-0.0M7.1,-1.0l0.9,0.6M-1.9,-2.6l0.8,-0.3M-3.2,8.8l1.4,1.1M-5.5,-6.9l1.2,0.4M-4.1,0.1l1.4,-0.2M-3.8,-0.5l0.4,0.3M-5.8,4.2l0.8,0.1M5.5,-2.3l1.5,-0.0M1.1,-7.4l0.9,-0.4M-0.7,-3.1l1.7,-1.3M3.6,6.3l2.1,0.4M-0.3,-8.6l1.5,-1.1M2.7,-3.6l0.6,-0.5M13.1,1.6l1.0,-0.7M12.5,2.6l1.4,0.9" stroke="#6f5246" stroke-width="0.95" stroke-linecap="round" fill="none" opacity="0.45"/>
</g>
<g transform="translate(160.1 653.3) rotate(-48)">
<ellipse rx="16.7" ry="10.8" fill="url(#bg0)" stroke="#8e6b5a" stroke-opacity="0.55" stroke-width="0.7"/>
<path d="M-6.3,-2.7l0.8,-0.1M-4.4,1.2l1.2,-0.8M6.3,-7.8l1.3,-0.2M-0.1,-3.4l0.5,-0.1M3.5,-0.2l1.7,1.2M-12.0,4.1l2.0,-0.6M-2.8,7.9l0.7,0.3M10.7,-6.4l0.7,0.1M-0.7,5.5l0.7,0.6M10.6,4.9l1.7,0.3M6.0,-4.4l1.0,0.1M7.2,4.4l1.8,0.2M-5.2,-6.8l1.9,1.1M-1.3,4.9l1.3,-0.4M-7.2,-2.3l1.2,-0.8M2.1,-7.9l1.3,0.1M3.8,9.3l1.2,-0.4M-7.0,-8.0l0.5,-0.2M-11.9,-0.3l1.4,-0.5M-8.7,5.3l1.6,-1.0M-4.6,-7.3l1.7,-0.1M-3.5,-0.1l1.1,0.7M2.1,-4.2l1.4,-0.0M-3.8,-4.7l1.5,-0.6" stroke="#6f5246" stroke-width="0.95" stroke-linecap="round" fill="none" opacity="0.45"/>
</g>
<g transform="translate(389.1 653.8) rotate(55)">
<ellipse rx="14.8" ry="10.2" fill="url(#bg3)" stroke="#8e6b5a" stroke-opacity="0.55" stroke-width="0.7"/>
<path d="M-10.4,-1.8l2.2,0.5M5.0,-0.9l1.6,0.4M-10.9,4.0l1.4,-0.6M-3.8,-5.0l1.7,-0.3M4.9,-1.5l1.7,-0.6M-0.3,6.4l1.7,1.2M10.2,2.7l1.2,-0.7M-10.7,-4.4l0.8,-0.2M9.4,4.3l1.8,1.2M-7.6,5.4l1.2,-0.1M-4.4,-3.6l0.6,0.0M-4.2,5.6l1.0,-0.1M2.2,6.1l2.1,-0.1M4.8,-2.1l1.0,0.1M-5.3,4.4l0.5,0.4M-0.6,-2.9l1.6,-0.2M-2.4,9.0l1.5,1.0M-5.2,-7.8l0.6,-0.3M-3.0,-6.5l1.9,1.4M-9.6,2.4l0.6,-0.3M6.5,6.1l1.1,-0.2" stroke="#6f5246" stroke-width="0.95" stroke-linecap="round" fill="none" opacity="0.45"/>
</g>
<g transform="translate(292.7 655.4) rotate(20)">
<ellipse rx="11.0" ry="7.9" fill="url(#bg1)" stroke="#8e6b5a" stroke-opacity="0.55" stroke-width="0.7"/>
<path d="M-0.2,-1.2l0.7,-0.4M1.9,2.2l2.1,0.7M-3.8,-1.2l1.0,-0.5M5.4,-0.5l0.6,0.2M-2.8,1.0l1.2,1.0M-3.2,4.0l2.1,0.8M4.5,-6.0l0.8,-0.0M-2.3,4.4l1.6,1.2M-3.7,1.5l1.2,-0.6M6.1,1.7l1.8,1.4M2.1,-3.3l2.1,0.0M-5.3,-1.1l0.8,0.0M5.5,-3.9l0.9,-0.4M-4.3,-5.9l2.1,-0.9M6.7,2.0l0.9,-0.3" stroke="#6f5246" stroke-width="0.95" stroke-linecap="round" fill="none" opacity="0.45"/>
</g>
<g transform="translate(337.7 656.0) rotate(0)">
<ellipse rx="13.3" ry="8.6" fill="url(#bg3)" stroke="#8e6b5a" stroke-opacity="0.55" stroke-width="0.7"/>
<path d="M-9.8,0.1l1.2,-0.2M5.3,6.9l1.4,-0.8M-2.8,-5.9l1.5,0.6M-8.8,-4.6l2.3,-0.3M-4.5,-3.9l1.3,-0.2M-4.4,-3.8l1.0,0.5M3.1,-6.2l2.1,-0.3M-3.9,-3.2l0.9,-0.6M3.5,-7.2l1.1,-0.2M3.6,2.1l1.5,0.9M5.5,2.1l1.8,-0.7M5.3,-3.3l1.3,-0.6M-2.0,5.0l1.0,0.3M9.5,1.2l2.0,-0.5M1.6,2.8l0.6,0.3M-1.9,-1.0l1.3,0.2M-1.2,1.7l1.3,-0.3M7.3,-0.8l2.0,1.1" stroke="#6f5246" stroke-width="0.95" stroke-linecap="round" fill="none" opacity="0.45"/>
</g>
<g transform="translate(372.4 656.8) rotate(-10)">
<ellipse rx="12.3" ry="8.2" fill="url(#bg0)" stroke="#8e6b5a" stroke-opacity="0.55" stroke-width="0.7"/>
<path d="M7.1,4.8l0.7,0.1M3.1,1.5l1.1,-0.6M8.6,-0.3l1.8,1.3M0.5,-6.1l1.3,0.5M-2.3,-2.8l1.5,-0.2M-9.5,-0.6l1.8,0.2M2.5,-6.6l0.6,-0.3M4.6,0.9l2.2,-0.6M-7.2,1.9l1.5,-0.5M1.2,-4.4l1.9,0.9M8.4,0.0l0.6,0.3M5.4,1.7l1.9,0.2M-3.7,-4.3l1.4,-0.6M-5.7,0.9l1.5,-0.9M3.4,2.7l1.5,0.2M11.1,0.1l2.1,-0.3" stroke="#6f5246" stroke-width="0.95" stroke-linecap="round" fill="none" opacity="0.45"/>
</g>
<g transform="translate(416.4 658.6) rotate(-5)">
<ellipse rx="15.2" ry="7.5" fill="url(#bg1)" stroke="#8e6b5a" stroke-opacity="0.55" stroke-width="0.7"/>
<path d="M-11.2,0.8l1.3,0.4M6.8,-3.5l1.6,0.3M-6.1,3.4l1.9,-1.2M12.7,0.2l1.9,-1.2M-2.8,6.1l1.5,-0.3M3.1,-0.4l1.8,0.8M-13.5,-0.2l1.7,1.3M-1.9,-2.7l1.5,0.1M9.3,-2.2l2.1,0.5M1.3,4.1l0.6,-0.2M9.3,4.0l0.6,0.2M-6.0,-2.7l0.8,-0.2M-11.4,2.1l0.8,0.4M6.1,-1.1l1.2,-0.1M10.7,3.4l0.6,-0.0M4.1,1.3l1.9,1.3M7.1,1.5l1.2,0.0" stroke="#6f5246" stroke-width="0.95" stroke-linecap="round" fill="none" opacity="0.45"/>
</g>
<g transform="translate(201.0 659.5) rotate(10)">
<ellipse rx="13.3" ry="7.5" fill="url(#bg0)" stroke="#8e6b5a" stroke-opacity="0.55" stroke-width="0.7"/>
<path d="M5.7,6.0l0.8,0.4M4.9,2.7l1.2,0.6M-2.4,-2.9l1.9,1.1M-3.3,-0.1l1.0,-0.3M-10.2,3.2l1.5,0.7M5.6,1.5l1.8,-0.4M0.5,2.0l0.6,-0.1M-7.5,-1.3l1.5,-0.5M9.9,0.6l1.1,-0.0M-4.7,2.5l0.6,-0.2M-1.3,2.4l0.6,-0.0M11.3,0.8l1.2,-0.1M-2.6,-0.2l0.6,0.3M-8.1,-1.7l1.1,0.4M-10.8,-0.1l1.8,1.1M-1.5,-5.5l1.4,0.1" stroke="#6f5246" stroke-width="0.95" stroke-linecap="round" fill="none" opacity="0.45"/>
</g>
<g transform="translate(353.0 663.0) rotate(10)">
<ellipse rx="9.5" ry="6.3" fill="url(#bg0)" stroke="#8e6b5a" stroke-opacity="0.55" stroke-width="0.7"/>
<path d="M3.9,-4.5l1.5,0.1M5.1,-2.9l0.6,-0.5M-7.1,-2.6l0.9,0.5M0.2,-2.1l1.5,0.7M-4.6,1.4l2.2,-0.4M-2.7,-4.7l2.3,-0.3M-8.1,1.3l1.6,0.4M5.2,1.8l0.9,-0.4M-4.8,-1.7l1.3,0.6M4.6,3.0l1.3,-0.6M-4.7,2.8l1.3,-0.7M-0.7,1.1l1.7,0.9" stroke="#6f5246" stroke-width="0.95" stroke-linecap="round" fill="none" opacity="0.45"/>
</g>
<g transform="translate(179.3 664.2) rotate(25)">
<ellipse rx="12.3" ry="7.9" fill="url(#bg1)" stroke="#8e6b5a" stroke-opacity="0.55" stroke-width="0.7"/>
<path d="M-1.4,-3.2l2.2,-0.1M-2.6,-5.6l1.0,0.2M7.4,5.0l1.9,1.4M8.6,-2.0l0.6,-0.4M9.2,3.3l1.5,-0.1M-1.9,6.7l1.4,-0.8M-6.4,5.5l1.6,1.2M-7.5,-3.6l1.7,-0.9M-0.5,7.0l0.8,0.3M2.1,1.2l1.8,-0.2M-3.7,-3.5l1.5,0.9M8.9,-2.5l0.6,-0.1M-9.7,-0.5l0.6,0.1M-4.0,-6.1l0.9,-0.2M-3.0,0.8l2.2,0.8M-6.9,4.2l1.0,0.7" stroke="#6f5246" stroke-width="0.95" stroke-linecap="round" fill="none" opacity="0.45"/>
</g>
<g transform="translate(219.8 664.8) rotate(70)">
<ellipse rx="13.3" ry="7.9" fill="url(#bg1)" stroke="#8e6b5a" stroke-opacity="0.55" stroke-width="0.7"/>
<path d="M-9.6,1.8l1.3,-0.8M7.8,0.1l0.9,-0.4M1.4,4.6l1.5,1.0M-1.1,-1.4l2.1,0.3M-1.1,-5.6l1.1,-0.3M8.9,2.5l0.6,0.2M8.4,-3.1l1.5,0.7M10.6,-1.6l2.4,-0.1M9.5,0.5l1.5,0.8M-5.7,-2.9l0.5,0.2M-8.5,-5.0l1.4,0.8M1.7,-7.0l1.2,0.7M-1.8,0.8l1.1,-0.2M7.7,-0.2l1.0,0.3M5.6,2.3l1.1,-0.6M-6.5,-2.7l2.0,-0.5M5.6,-0.5l1.4,-0.6" stroke="#6f5246" stroke-width="0.95" stroke-linecap="round" fill="none" opacity="0.45"/>
</g>
<g transform="translate(272.8 663.9) rotate(10)">
<ellipse rx="17.4" ry="10.8" fill="url(#bg0)" stroke="#8e6b5a" stroke-opacity="0.55" stroke-width="0.7"/>
<path d="M-10.3,-0.9l1.8,-0.4M7.7,-6.1l1.8,-0.4M-12.6,5.1l2.1,0.9M5.2,-9.3l0.7,-0.2M-6.9,4.1l0.8,-0.5M5.7,-6.4l1.5,0.7M8.3,4.2l1.4,-0.2M-6.0,8.9l0.6,-0.1M6.0,-7.6l0.5,-0.3M5.2,5.9l1.2,0.6M11.9,-1.1l0.8,0.3M-3.2,-9.1l1.2,0.2M4.1,-6.4l1.4,0.4M2.2,8.3l1.4,0.7M9.9,6.7l1.9,0.6M7.1,-5.5l1.3,-0.4M-1.6,-1.4l1.1,0.9M-3.3,3.9l1.2,0.4M3.3,-3.2l1.3,0.7M8.7,-6.2l0.9,-0.6M-6.0,2.8l1.9,-1.2M13.3,5.3l2.0,-0.0M-14.9,1.6l1.8,-0.4M-12.2,6.3l0.8,-0.6M14.6,1.0l0.8,0.1" stroke="#6f5246" stroke-width="0.95" stroke-linecap="round" fill="none" opacity="0.45"/>
</g>
<g transform="translate(235.3 665.6) rotate(0)">
<ellipse rx="13.6" ry="14.1" fill="url(#bg3)" stroke="#8e6b5a" stroke-opacity="0.55" stroke-width="0.7"/>
<path d="M-8.2,9.3l1.0,0.5M-4.3,-0.9l0.5,0.1M2.4,-2.5l1.7,-0.7M-4.4,-10.9l1.8,-0.7M6.8,10.5l1.9,1.3M-3.3,-0.9l1.0,0.7M6.3,2.9l0.5,0.3M-2.4,3.3l1.1,-0.5M-9.0,4.1l1.5,-0.9M-3.4,-0.8l1.2,0.6M-0.9,11.7l1.0,-0.1M0.6,-2.1l1.6,0.1M-2.7,-12.2l1.7,-0.7M2.8,8.6l1.0,0.1M8.8,5.8l1.0,-0.8M8.7,8.6l1.8,1.1M-9.5,8.2l0.8,0.3M5.6,-2.2l0.4,-0.3M9.7,5.8l1.7,-0.1M7.5,6.8l0.7,-0.4M-8.3,-5.8l1.8,0.9M4.6,5.5l0.8,-0.0M11.4,2.1l1.6,0.8M-11.8,0.9l1.9,0.9M2.1,-5.9l0.9,-0.7" stroke="#6f5246" stroke-width="0.95" stroke-linecap="round" fill="none" opacity="0.45"/>
</g>
<g transform="translate(332.8 669.2) rotate(0)">
<ellipse rx="10.4" ry="5.9" fill="url(#bg3)" stroke="#8e6b5a" stroke-opacity="0.55" stroke-width="0.7"/>
<path d="M-9.3,0.9l1.0,-0.1M6.2,-3.9l1.7,1.0M4.5,-1.3l1.4,-1.0M-4.1,-4.7l1.3,-0.7M-2.6,-0.7l1.1,-0.8M-7.5,2.4l1.7,0.9M-6.2,1.0l0.6,0.2M-5.6,-1.5l0.8,-0.0M3.3,0.8l0.6,-0.1M5.6,3.7l1.4,0.8M-3.8,-0.8l0.9,0.5M-6.6,-2.2l1.4,-1.0" stroke="#6f5246" stroke-width="0.95" stroke-linecap="round" fill="none" opacity="0.45"/>
</g>
<g transform="translate(253.8 668.6) rotate(80)">
<ellipse rx="12.9" ry="8.2" fill="url(#bg1)" stroke="#8e6b5a" stroke-opacity="0.55" stroke-width="0.7"/>
<path d="M-2.3,2.1l1.7,-0.9M4.6,1.3l0.9,-0.2M4.8,-4.5l1.3,-0.5M-3.4,1.3l2.1,-0.3M-4.3,-3.6l1.0,-0.5M3.6,7.1l1.4,0.5M-5.8,-1.5l0.8,0.3M2.1,-3.4l1.4,-0.7M-2.5,-0.6l1.6,-1.2M-1.0,-6.6l1.5,-0.6M4.9,1.4l1.5,0.9M-5.3,0.7l1.7,-1.4M-7.0,-4.6l0.8,0.1M0.3,3.8l1.4,-0.9M-5.1,-2.5l2.4,-0.4M5.5,6.1l1.7,-0.6M3.5,2.0l1.9,-0.6" stroke="#6f5246" stroke-width="0.95" stroke-linecap="round" fill="none" opacity="0.45"/>
</g>
<g transform="translate(403.5 670.9) rotate(5)">
<ellipse rx="12.3" ry="7.5" fill="url(#bg0)" stroke="#8e6b5a" stroke-opacity="0.55" stroke-width="0.7"/>
<path d="M-3.7,-4.6l1.4,-0.6M5.4,3.2l1.8,1.3M-2.3,5.0l1.5,-0.1M4.4,5.4l0.6,-0.2M-0.9,3.2l0.7,-0.5M-4.9,-0.4l1.7,0.2M-5.6,-3.4l1.6,-0.5M-9.1,1.3l0.9,0.3M-9.5,-3.4l1.7,0.1M0.7,-3.7l1.2,-0.1M-0.9,-5.8l0.7,0.5M7.9,-0.5l2.4,0.4M-2.8,1.5l0.5,0.1M-1.7,-5.3l2.0,-0.2M-0.4,-5.3l1.7,0.1" stroke="#6f5246" stroke-width="0.95" stroke-linecap="round" fill="none" opacity="0.45"/>
</g>
<g transform="translate(380.7 671.3) rotate(15)">
<ellipse rx="14.8" ry="7.9" fill="url(#bg2)" stroke="#8e6b5a" stroke-opacity="0.55" stroke-width="0.7"/>
<path d="M9.4,3.2l1.8,-0.2M9.3,-0.9l0.8,0.0M-3.7,2.4l2.0,-1.0M-1.4,-3.0l1.1,0.9M10.6,3.5l0.4,0.3M7.7,-2.6l1.7,-0.1M4.2,3.7l1.2,0.7M7.5,3.5l1.4,0.1M2.8,-5.4l0.9,0.7M-5.9,-2.2l1.3,0.8M10.4,1.7l1.4,-0.4M3.6,3.0l1.3,-0.1M-5.8,-2.3l1.7,-0.1M3.4,-6.2l0.7,0.6M-7.6,-1.2l0.9,0.3M-10.3,2.3l0.9,0.5M-1.1,6.7l1.3,-0.2M-8.7,-2.4l1.5,0.1" stroke="#6f5246" stroke-width="0.95" stroke-linecap="round" fill="none" opacity="0.45"/>
</g>
<g transform="translate(201.3 671.4) rotate(-5)">
<ellipse rx="16.7" ry="7.9" fill="url(#bg1)" stroke="#8e6b5a" stroke-opacity="0.55" stroke-width="0.7"/>
<path d="M-0.2,-2.4l1.9,-1.5M13.0,2.1l0.8,-0.6M4.9,4.6l1.6,-1.3M1.5,1.2l0.6,-0.2M-14.9,0.4l1.5,0.8M-12.2,-3.7l1.7,-0.6M-7.4,3.6l0.6,0.4M-7.1,0.4l1.3,0.6M-1.7,5.5l0.6,-0.2M4.2,4.8l1.7,-0.7M-4.4,-5.1l1.5,1.2M-7.6,6.2l1.4,0.0M2.2,2.1l1.5,-0.9M4.9,0.5l1.4,-0.6M-1.1,6.3l1.2,-0.6M-6.5,-6.4l1.7,-0.1M-12.4,-1.4l1.9,0.8M0.1,6.3l0.6,-0.3M-6.9,-0.2l1.5,-0.5" stroke="#6f5246" stroke-width="0.95" stroke-linecap="round" fill="none" opacity="0.45"/>
</g>
<g transform="translate(299.0 672.1) rotate(-10)">
<ellipse rx="19.9" ry="11.8" fill="url(#bg2)" stroke="#8e6b5a" stroke-opacity="0.55" stroke-width="0.7"/>
<path d="M-15.0,4.0l2.3,-0.2M1.5,-7.6l1.1,-0.6M-9.5,-8.7l1.7,-0.5M-10.9,-1.0l1.2,0.5M12.7,0.3l1.3,-0.7M-1.1,-5.6l1.2,-0.4M-9.9,-4.1l1.8,-0.2M2.9,-7.9l0.7,-0.0M-0.2,6.0l2.3,-0.1M-0.5,-4.5l1.5,-0.9M1.2,4.1l0.5,0.3M10.9,-1.5l0.5,0.2M-2.5,-2.4l1.6,-1.1M1.7,9.4l1.8,-0.7M-16.2,-0.5l1.6,0.1M2.2,3.0l0.9,0.0M-10.3,-4.2l1.7,0.2M-7.2,-5.5l2.1,0.1M13.1,-7.3l1.9,0.8M-5.0,-7.5l0.8,-0.5M-5.0,-4.7l1.7,0.1M-9.4,-4.5l0.9,-0.3M-5.6,-9.6l1.1,-0.3M-11.4,2.3l1.6,0.6M1.8,-9.6l1.5,1.2M-11.7,2.3l1.7,-0.4M5.7,-6.2l1.6,0.0M-2.3,1.5l1.0,-0.0M6.9,-1.3l1.7,1.4" stroke="#6f5246" stroke-width="0.95" stroke-linecap="round" fill="none" opacity="0.45"/>
</g>
<g transform="translate(428.7 675.3) rotate(-60)">
<ellipse rx="16.1" ry="12.8" fill="url(#bg2)" stroke="#8e6b5a" stroke-opacity="0.55" stroke-width="0.7"/>
<path d="M3.3,-9.1l0.6,0.5M-6.8,7.7l1.5,0.2M13.3,-3.3l2.1,0.8M1.3,6.8l1.9,0.4M9.1,-3.4l1.5,1.2M-9.6,-5.7l1.6,-0.0M-3.2,2.4l1.3,0.9M-12.6,-1.4l0.5,0.3M-7.1,6.1l2.3,-0.5M1.8,10.8l1.3,-0.7M-6.4,-3.6l1.5,-0.6M10.6,2.3l1.2,0.4M3.4,6.9l1.7,-0.1M-3.9,-10.1l0.8,-0.1M-5.6,8.5l2.2,0.8M-1.7,-5.2l1.3,-0.2M4.5,2.2l1.1,-0.2M0.2,6.6l0.9,-0.4M-4.3,-5.5l1.9,-0.6M6.3,10.0l0.8,-0.5M-7.9,0.2l1.2,-0.1M4.9,7.0l0.6,0.1M-7.3,4.2l2.3,-0.0M0.8,-2.1l1.5,-1.1M12.4,5.5l1.1,0.3M6.3,7.4l1.8,-0.7" stroke="#6f5246" stroke-width="0.95" stroke-linecap="round" fill="none" opacity="0.45"/>
</g>
<g transform="translate(359.5 677.1) rotate(5)">
<ellipse rx="17.4" ry="8.8" fill="url(#bg2)" stroke="#8e6b5a" stroke-opacity="0.55" stroke-width="0.7"/>
<path d="M5.6,-3.8l0.9,-0.6M-0.7,-6.6l2.0,1.0M-9.4,-5.3l2.0,0.6M7.1,-5.3l1.7,-0.3M1.1,5.3l1.8,-0.3M-6.0,-6.3l2.2,0.5M9.9,-2.7l1.5,0.4M5.7,4.6l1.4,0.4M-3.1,4.1l1.4,-1.1M5.5,7.4l1.7,0.1M9.4,-4.9l1.2,0.6M-0.9,5.4l0.7,-0.2M3.4,2.3l2.3,-0.1M11.7,-0.1l0.5,0.1M2.9,-4.9l1.0,-0.4M-5.5,6.4l1.1,-0.1M-8.9,5.1l1.1,0.5M-5.2,7.6l0.5,0.2M8.8,-4.3l2.0,0.4M12.4,4.4l1.3,0.3M5.0,-5.1l0.8,0.4" stroke="#6f5246" stroke-width="0.95" stroke-linecap="round" fill="none" opacity="0.45"/>
</g>
<g transform="translate(139.7 677.1) rotate(-50)">
<ellipse rx="16.7" ry="10.8" fill="url(#bg1)" stroke="#8e6b5a" stroke-opacity="0.55" stroke-width="0.7"/>
<path d="M-0.7,-7.8l1.9,1.4M1.1,-5.8l1.5,0.0M-0.2,-6.2l1.9,-0.1M-2.5,-4.0l2.1,0.6M2.9,2.6l1.7,-0.1M2.9,-1.8l1.9,0.8M-1.0,2.6l2.1,-0.6M9.3,-3.7l2.1,1.1M-2.4,-6.1l2.3,-0.1M11.0,5.8l0.8,-0.3M-10.4,1.8l2.1,-0.5M3.6,-1.6l0.9,0.3M-7.2,-8.2l0.7,-0.4M-14.4,-2.6l1.7,0.8M8.0,-1.4l0.6,0.2M6.4,1.5l0.8,-0.6M-2.8,-4.0l1.5,1.2M-1.5,-7.4l1.7,-0.3M9.1,5.7l1.7,-0.6M1.7,-9.1l1.1,0.5M-8.2,4.4l1.7,1.2M13.8,-1.2l1.9,-0.3M1.7,6.5l0.8,-0.0M7.0,2.5l0.7,0.3" stroke="#6f5246" stroke-width="0.95" stroke-linecap="round" fill="none" opacity="0.45"/>
</g>
<g transform="translate(267.8 680.6) rotate(15)">
<ellipse rx="9.1" ry="7.1" fill="url(#bg3)" stroke="#8e6b5a" stroke-opacity="0.55" stroke-width="0.7"/>
<path d="M-8.2,-0.1l1.4,-0.1M-4.8,-4.4l1.3,0.9M-1.1,6.0l2.1,-0.5M6.4,0.9l1.3,1.0M-6.6,-2.0l1.7,-0.9M-2.8,-3.8l0.9,-0.3M-4.6,4.2l1.5,-0.4M6.9,2.0l1.7,0.9M0.6,-1.9l1.0,-0.1M-2.2,5.6l0.7,-0.6M-2.2,0.5l0.5,0.1M-4.9,-2.9l0.6,0.1M-4.7,-0.5l0.8,-0.4" stroke="#6f5246" stroke-width="0.95" stroke-linecap="round" fill="none" opacity="0.45"/>
</g>
<g transform="translate(313.4 680.6) rotate(-65)">
<ellipse rx="14.2" ry="9.4" fill="url(#bg3)" stroke="#8e6b5a" stroke-opacity="0.55" stroke-width="0.7"/>
<path d="M-0.7,6.0l1.9,1.5M3.1,5.4l0.9,0.8M8.7,-2.3l1.2,0.2M-8.7,-4.9l1.0,-0.3M7.9,0.1l0.6,0.5M9.3,-3.5l2.2,0.8M-11.7,-1.5l1.4,-0.3M6.6,-0.3l1.2,-0.3M-7.7,-2.6l1.1,0.1M2.8,7.7l2.1,-0.6M6.7,1.7l1.8,1.5M8.5,3.8l1.6,0.5M-5.5,0.8l1.6,0.6M-4.5,3.7l0.6,-0.4M2.0,5.9l2.1,0.3M-7.1,-2.8l1.2,0.4M-6.2,-3.7l0.6,-0.4M-8.4,0.9l0.9,0.1M1.1,3.5l2.0,0.2" stroke="#6f5246" stroke-width="0.95" stroke-linecap="round" fill="none" opacity="0.45"/>
</g>
<g transform="translate(162.6 680.6) rotate(-35)">
<ellipse rx="16.1" ry="12.8" fill="url(#bg2)" stroke="#8e6b5a" stroke-opacity="0.55" stroke-width="0.7"/>
<path d="M10.3,0.6l1.6,-1.0M-2.9,-2.4l1.6,-0.1M-4.5,3.1l1.9,-0.4M-3.8,6.8l1.8,0.2M-13.0,0.4l1.0,0.7M-11.3,1.1l0.8,-0.1M3.5,-0.7l1.7,-0.2M-4.7,-10.7l1.5,-0.7M-7.9,-5.3l2.1,-0.8M-7.7,-6.5l0.5,-0.2M-8.9,-5.0l0.7,-0.2M-4.4,-10.9l1.9,0.5M-9.8,-3.1l0.8,0.6M-8.4,4.8l0.9,-0.3M-11.6,1.9l0.7,-0.2M-10.1,2.5l1.6,-0.2M-5.9,2.3l1.7,0.9M-2.5,0.3l1.6,-0.4M-1.1,-8.0l0.7,0.6M-13.5,3.1l1.0,-0.6M3.6,3.5l1.8,0.9M-7.3,2.9l0.6,-0.0M1.1,-2.9l1.3,-0.8M-7.1,5.8l0.5,-0.0M8.4,-8.1l2.3,-0.1M-7.2,6.3l0.8,-0.5" stroke="#6f5246" stroke-width="0.95" stroke-linecap="round" fill="none" opacity="0.45"/>
</g>
<g transform="translate(233.5 683.2) rotate(20)">
<ellipse rx="10.4" ry="7.9" fill="url(#bg2)" stroke="#8e6b5a" stroke-opacity="0.55" stroke-width="0.7"/>
<path d="M1.0,4.3l1.4,-0.4M3.8,5.8l1.4,0.4M-5.2,5.7l1.2,-0.3M-6.2,-1.2l1.8,-0.9M-3.5,-2.7l1.5,1.0M-0.5,6.6l1.1,0.8M8.3,-3.4l0.6,-0.1M-7.0,-3.5l1.4,0.9M2.4,3.0l2.1,0.5M-2.0,-1.5l0.5,-0.3M6.6,0.8l1.4,-0.4M2.4,2.6l1.3,0.7M-1.8,3.6l1.4,0.5M-2.9,6.6l1.0,0.3" stroke="#6f5246" stroke-width="0.95" stroke-linecap="round" fill="none" opacity="0.45"/>
</g>
<g transform="translate(209.4 685.5) rotate(-8)">
<ellipse rx="16.7" ry="8.2" fill="url(#bg2)" stroke="#8e6b5a" stroke-opacity="0.55" stroke-width="0.7"/>
<path d="M-3.0,1.6l1.2,-0.1M3.3,6.8l0.5,-0.2M10.8,3.0l0.6,0.2M-11.6,-1.2l1.9,-1.0M9.2,-2.9l1.3,0.6M13.0,-2.7l1.2,1.0M7.5,0.9l1.1,0.1M-4.0,-1.4l1.1,0.3M3.2,-1.5l0.7,0.5M-10.5,-2.6l0.4,-0.3M5.0,-5.3l2.4,0.0M-2.2,-3.3l1.7,0.9M3.5,-2.6l1.7,-0.7M3.6,7.3l1.8,-1.5M7.0,-5.0l1.3,0.1M5.7,2.5l1.2,-0.7M-4.6,-7.1l2.4,-0.3M9.9,2.5l0.5,0.3M-10.2,-0.8l2.1,-0.3M0.7,-5.4l0.9,0.4" stroke="#6f5246" stroke-width="0.95" stroke-linecap="round" fill="none" opacity="0.45"/>
</g>
<g transform="translate(332.4 685.5) rotate(-70)">
<ellipse rx="16.1" ry="11.8" fill="url(#bg0)" stroke="#8e6b5a" stroke-opacity="0.55" stroke-width="0.7"/>
<path d="M1.6,4.8l1.2,0.6M-12.3,3.7l1.4,0.2M-0.3,7.0l1.6,-1.0M-7.3,1.6l1.0,-0.2M3.6,7.8l0.5,-0.2M-0.6,4.8l2.0,0.5M4.4,-2.7l0.8,-0.2M-13.4,-0.5l1.8,1.0M3.3,0.3l1.1,-0.1M8.9,0.3l0.6,0.4M2.1,6.0l0.7,0.4M7.5,4.7l0.9,-0.3M12.5,-0.3l1.9,-0.4M14.3,-1.5l1.6,-0.6M10.4,2.4l1.2,0.7M13.3,-0.1l0.7,0.6M-2.8,-1.7l0.7,0.5M3.6,-8.9l1.4,-1.1M7.6,-2.3l2.0,0.1M-10.7,0.6l2.0,1.0M-10.7,6.1l0.8,-0.2M-1.7,2.6l1.0,-0.8M13.0,-1.9l1.2,-0.8M-1.1,9.4l0.9,-0.6M-10.1,3.6l0.7,-0.1" stroke="#6f5246" stroke-width="0.95" stroke-linecap="round" fill="none" opacity="0.45"/>
</g>
<g transform="translate(180.7 686.2) rotate(-40)">
<ellipse rx="16.1" ry="10.8" fill="url(#bg2)" stroke="#8e6b5a" stroke-opacity="0.55" stroke-width="0.7"/>
<path d="M-0.3,-6.4l2.2,-0.8M0.0,-3.2l2.2,0.1M6.2,7.9l1.9,-1.1M10.6,-6.5l1.1,0.5M-2.1,-7.3l1.2,-0.3M5.2,-8.0l1.9,-1.3M-11.2,-3.5l0.7,-0.6M10.2,-5.4l1.8,-0.4M-12.3,3.4l0.6,0.2M-2.7,-6.5l2.3,0.4M5.1,-3.0l1.2,-0.4M-12.8,0.1l2.0,1.3M8.7,-7.8l1.8,0.6M8.0,3.5l1.2,-0.8M7.5,-3.6l0.8,-0.5M-8.5,-1.3l2.3,0.4M-5.6,1.8l0.6,0.2M-8.0,-4.5l1.5,-0.2M3.4,-1.5l0.9,0.4M-3.5,5.3l1.3,-0.4M0.3,-3.4l1.5,0.5M-7.0,7.0l1.2,0.2M6.8,3.4l1.5,0.2" stroke="#6f5246" stroke-width="0.95" stroke-linecap="round" fill="none" opacity="0.45"/>
</g>
<g transform="translate(412.3 686.9) rotate(60)">
<ellipse rx="15.5" ry="10.2" fill="url(#bg3)" stroke="#8e6b5a" stroke-opacity="0.55" stroke-width="0.7"/>
<path d="M-5.4,-4.7l2.0,1.3M5.1,-6.1l1.8,1.5M10.9,5.2l1.8,-0.1M-3.0,7.1l1.8,0.5M-3.5,-2.0l1.2,0.2M-7.6,7.1l1.8,1.3M10.2,2.8l2.2,-0.4M-0.6,7.6l0.6,0.0M3.1,3.4l1.9,0.4M-5.5,-8.2l0.7,0.4M0.7,5.7l1.8,-1.5M-1.0,-2.1l1.2,0.9M-11.2,-2.8l1.8,-1.0M-8.6,-1.3l0.9,0.4M11.3,-4.3l1.1,-0.0M7.7,-4.3l2.4,0.3M3.0,5.7l1.6,-1.2M3.8,-8.0l2.1,-0.1M11.7,2.1l0.6,0.0M2.5,0.3l0.9,0.2M0.6,-7.0l0.5,-0.2M-0.4,-6.3l1.2,0.5" stroke="#6f5246" stroke-width="0.95" stroke-linecap="round" fill="none" opacity="0.45"/>
</g>
<g transform="translate(389.5 689.4) rotate(5)">
<ellipse rx="18.9" ry="11.4" fill="url(#bg2)" stroke="#8e6b5a" stroke-opacity="0.55" stroke-width="0.7"/>
<path d="M11.4,3.8l0.9,-0.7M-2.3,-8.0l1.4,-1.1M0.4,-10.3l1.1,-0.8M2.3,8.3l1.8,-0.5M-11.2,1.0l2.0,0.8M15.6,-2.8l1.1,-0.7M5.1,2.0l0.7,0.1M3.7,8.0l0.6,0.4M13.9,2.3l1.8,1.0M-14.2,-2.8l1.1,-0.7M-11.7,-1.8l1.8,0.9M-1.5,-3.0l2.3,-0.5M16.6,-1.4l1.8,-0.7M6.1,8.6l1.1,0.4M10.8,-0.2l2.3,-0.1M12.1,-1.4l1.4,-1.1M-11.4,3.4l1.1,-0.7M-9.5,-7.3l1.9,-1.2M-10.1,-5.5l1.7,-1.2M-3.6,8.3l0.6,-0.1M-9.3,-8.1l1.6,-0.0M3.9,-5.8l1.1,-0.8M7.2,0.8l1.2,-0.0M10.4,5.4l0.7,-0.3M-4.1,-7.5l1.3,-0.1M-3.7,-2.8l1.6,0.4M-0.7,7.2l0.9,0.7" stroke="#6f5246" stroke-width="0.95" stroke-linecap="round" fill="none" opacity="0.45"/>
</g>
<g transform="translate(295.8 690.6) rotate(10)">
<ellipse rx="11.7" ry="7.9" fill="url(#bg3)" stroke="#8e6b5a" stroke-opacity="0.55" stroke-width="0.7"/>
<path d="M4.1,-5.2l0.8,-0.4M-1.4,6.9l1.1,0.6M8.8,-1.3l1.1,0.4M-10.4,-0.1l1.4,0.3M-3.4,-5.2l0.8,0.1M-8.0,2.6l1.8,-0.8M-3.8,2.7l2.3,-0.0M-10.0,2.2l1.7,1.0M-4.1,-0.1l1.0,-0.7M-5.9,2.9l1.1,0.9M-4.5,-0.6l0.8,0.2M-6.9,-0.5l1.4,-0.2M-3.6,-5.0l0.6,-0.0M-0.0,5.5l1.3,0.5M9.0,-1.4l1.7,0.0" stroke="#6f5246" stroke-width="0.95" stroke-linecap="round" fill="none" opacity="0.45"/>
</g>
<g transform="translate(274.5 692.6) rotate(-75)">
<ellipse rx="14.2" ry="10.8" fill="url(#bg0)" stroke="#8e6b5a" stroke-opacity="0.55" stroke-width="0.7"/>
<path d="M-7.4,-3.7l1.8,-0.2M2.1,0.1l1.5,0.0M-6.3,-2.4l1.4,0.1M8.5,6.9l1.3,0.5M9.6,0.9l1.7,0.3M-6.7,-8.3l1.1,-0.1M-0.7,-2.2l1.6,-0.2M9.9,-3.1l1.8,-1.2M-3.5,5.0l0.7,0.5M6.6,-2.7l1.5,-0.3M1.3,-8.5l1.7,1.0M-9.8,0.2l1.0,-0.1M9.4,-1.2l1.2,-0.3M-0.4,6.6l0.6,0.2M7.8,4.1l1.9,-0.2M7.8,4.3l1.8,-1.0M-10.9,2.5l1.0,-0.7M-5.6,-0.9l1.2,0.5M2.0,0.9l1.3,-1.0M-0.8,-7.9l1.4,0.4M-3.9,-5.9l0.9,-0.6" stroke="#6f5246" stroke-width="0.95" stroke-linecap="round" fill="none" opacity="0.45"/>
</g>
<g transform="translate(360.1 693.8) rotate(22)">
<ellipse rx="18.0" ry="9.8" fill="url(#bg2)" stroke="#8e6b5a" stroke-opacity="0.55" stroke-width="0.7"/>
<path d="M-11.6,-1.5l1.5,0.6M-2.5,-7.4l2.1,-0.1M-3.9,-2.5l0.7,-0.0M-3.5,-4.1l2.2,-0.7M-11.4,0.3l2.1,-1.1M-0.1,7.2l1.2,-0.3M10.6,6.3l1.3,0.1M0.5,8.6l0.7,0.2M11.1,2.6l0.9,0.7M-14.0,3.1l0.5,-0.2M10.1,-0.5l0.5,-0.2M-7.8,5.0l1.2,-0.3M-11.2,1.0l0.8,0.0M-11.1,-3.2l1.9,-0.1M3.7,8.5l0.7,-0.2M-9.3,2.9l0.8,0.4M-4.0,6.3l1.4,-0.8M-5.9,1.5l1.5,0.5M9.7,-6.9l0.7,-0.0M-5.1,-4.8l2.3,-0.0M3.4,-2.0l1.2,0.3M6.1,-5.4l2.0,0.8M-11.9,3.9l1.3,-0.8M12.2,-4.9l2.0,-0.8" stroke="#6f5246" stroke-width="0.95" stroke-linecap="round" fill="none" opacity="0.45"/>
</g>
<g transform="translate(226.5 696.8) rotate(50)">
<ellipse rx="10.4" ry="7.5" fill="url(#bg0)" stroke="#8e6b5a" stroke-opacity="0.55" stroke-width="0.7"/>
<path d="M-1.1,6.5l1.9,1.3M-3.0,1.1l1.8,-0.8M-0.3,-4.0l1.3,0.4M4.2,-2.0l0.7,0.0M-0.1,-4.0l1.2,0.4M6.5,-2.3l1.4,-0.1M4.4,3.5l0.7,-0.2M-2.1,-1.2l1.0,0.7M6.8,2.3l1.0,-0.6M5.3,-4.5l1.0,0.2M-7.3,-1.9l1.4,0.4M-2.9,-4.3l0.9,0.5M-3.4,-2.8l1.5,1.2M-2.1,-2.7l1.3,-1.0" stroke="#6f5246" stroke-width="0.95" stroke-linecap="round" fill="none" opacity="0.45"/>
</g>
<g transform="translate(246.4 697.3) rotate(80)">
<ellipse rx="18.0" ry="13.3" fill="url(#bg0)" stroke="#8e6b5a" stroke-opacity="0.55" stroke-width="0.7"/>
<path d="M9.2,8.0l2.1,-0.9M-3.0,10.1l0.9,0.4M-14.0,0.6l1.7,0.9M-8.2,9.7l1.2,-0.8M2.1,-9.8l1.6,-0.8M2.7,-0.5l1.1,-0.7M-8.3,9.4l0.9,-0.1M10.8,-8.0l1.1,0.1M13.0,3.1l2.0,-0.0M15.3,1.2l2.1,0.8M-1.1,10.0l2.0,-0.3M-7.7,-3.8l2.1,0.4M0.7,-6.7l0.6,-0.0M-8.1,-1.2l1.8,-0.9M1.4,10.7l2.0,0.0M8.7,6.1l1.0,-0.4M11.1,3.9l0.6,-0.2M11.6,4.1l2.3,0.1M10.8,5.7l1.4,0.6M-11.2,-7.1l1.2,0.5M3.2,1.1l1.4,1.2M6.7,10.7l1.6,0.7M-2.8,-10.4l0.7,0.3M-13.0,6.8l2.3,0.2M-2.4,-10.4l1.1,0.7M3.3,10.7l1.1,-0.0M15.6,-3.5l1.9,0.2M5.2,1.6l1.6,0.1M2.0,4.3l0.6,0.4M-2.9,-9.9l1.9,0.8" stroke="#6f5246" stroke-width="0.95" stroke-linecap="round" fill="none" opacity="0.45"/>
</g>
<g transform="translate(396.2 703.5) rotate(-12)">
<ellipse rx="15.2" ry="7.9" fill="url(#bg2)" stroke="#8e6b5a" stroke-opacity="0.55" stroke-width="0.7"/>
<path d="M-4.8,1.6l1.7,-0.4M2.1,-4.3l1.9,0.9M4.5,4.8l1.2,-0.7M7.1,-2.2l1.4,-1.0M13.0,-2.2l1.6,-0.9M-5.0,-4.2l1.3,-0.5M7.4,5.4l1.6,0.6M-0.6,-4.6l1.5,-0.4M-5.2,-3.9l1.9,-0.6M-3.3,1.6l0.5,-0.2M9.1,0.5l1.1,0.6M13.2,1.9l0.6,0.3M-4.5,2.9l1.6,-0.3M5.4,0.3l1.7,0.5M7.2,-0.2l1.9,-0.4M-7.5,-0.4l1.1,0.7M-0.1,4.7l2.2,-0.2M3.9,-4.9l1.1,0.4" stroke="#6f5246" stroke-width="0.95" stroke-linecap="round" fill="none" opacity="0.45"/>
</g>
<g transform="translate(317.8 702.9) rotate(-40)">
<ellipse rx="18.0" ry="12.8" fill="url(#bg3)" stroke="#8e6b5a" stroke-opacity="0.55" stroke-width="0.7"/>
<path d="M5.9,7.2l2.3,0.4M9.3,-0.4l1.1,0.7M1.3,-4.4l1.3,0.4M-7.8,-0.2l0.5,-0.1M-1.5,2.0l1.3,0.2M4.9,-2.2l1.8,-0.5M-13.1,-5.1l1.6,0.2M-7.6,-8.2l2.0,0.8M3.7,-0.5l1.9,-1.2M6.4,6.4l0.7,-0.4M14.0,-3.3l1.9,1.3M-10.5,-8.8l1.3,-0.7M-8.6,-7.6l0.9,-0.3M11.0,1.2l2.1,-0.4M9.7,2.0l1.1,-0.5M4.2,-10.3l0.5,0.2M11.0,-7.2l1.8,-0.7M4.6,-6.6l2.0,0.8M-10.7,-7.2l1.5,-0.9M-0.8,8.3l1.6,-1.1M11.5,-5.9l0.5,0.2M-0.8,3.4l0.8,0.6M-10.3,-6.9l2.2,0.1M2.9,8.7l2.1,0.6M1.1,-4.3l1.6,-0.8M-12.3,-6.4l1.1,-0.5M-5.7,-5.0l1.4,0.4M11.9,-1.3l1.6,0.6M4.8,-9.1l0.7,0.1" stroke="#6f5246" stroke-width="0.95" stroke-linecap="round" fill="none" opacity="0.45"/>
</g>
<g transform="translate(189.0 704.4) rotate(75)">
<ellipse rx="18.0" ry="12.8" fill="url(#bg3)" stroke="#8e6b5a" stroke-opacity="0.55" stroke-width="0.7"/>
<path d="M-15.0,3.9l1.1,0.0M-11.4,-3.2l1.9,1.0M5.8,8.9l1.5,-0.2M11.7,7.4l2.3,0.7M-4.8,-1.6l1.1,-0.3M8.8,3.8l1.2,-0.1M5.8,1.9l2.3,0.2M1.2,7.9l1.2,-0.0M6.3,9.0l2.2,0.4M14.4,-2.6l1.5,0.0M-3.7,-6.7l0.6,-0.0M5.5,-8.8l0.5,0.3M11.4,2.5l0.8,-0.2M1.5,9.1l1.6,0.9M-4.8,-0.1l0.5,-0.3M5.0,3.7l0.9,-0.5M5.9,-5.7l1.3,0.5M5.0,7.5l0.6,-0.0M11.2,-3.8l1.1,0.2M-11.7,-0.1l1.6,0.5M12.5,-7.3l2.1,1.0M-6.0,-9.5l0.8,-0.4M6.1,-6.5l0.5,0.2M5.9,4.7l2.0,-0.9M4.1,-5.5l2.0,-0.3M-12.6,-3.7l1.7,-0.7M-3.4,-4.4l0.9,0.4M6.2,6.2l0.7,0.1M4.5,6.4l2.4,-0.2" stroke="#6f5246" stroke-width="0.95" stroke-linecap="round" fill="none" opacity="0.45"/>
</g>
<g transform="translate(287.6 706.5) rotate(-5)">
<ellipse rx="17.4" ry="11.4" fill="url(#bg0)" stroke="#8e6b5a" stroke-opacity="0.55" stroke-width="0.7"/>
<path d="M-8.3,-4.2l1.3,0.4M3.9,0.4l0.9,0.6M2.7,-7.8l2.2,-0.3M-12.4,-6.3l2.1,0.8M-6.7,3.2l2.0,1.1M-7.1,4.9l1.2,-0.5M-3.2,3.0l1.9,-1.4M6.4,8.7l1.6,-1.2M-14.6,-4.0l1.9,-1.1M13.5,4.2l2.3,-0.2M0.8,-3.0l1.2,0.0M-0.1,8.6l1.7,-0.8M13.2,5.1l1.6,-0.5M12.6,-4.4l0.9,-0.1M8.8,1.7l1.4,0.5M4.5,2.1l1.9,-1.2M-3.6,-8.2l0.9,0.7M-0.0,-4.1l1.6,0.3M15.0,-1.4l1.9,0.8M-11.5,1.5l0.4,0.3M7.1,-5.8l2.1,0.8M-2.0,-2.2l1.1,-0.6M-5.2,8.9l0.5,0.1M12.1,-5.2l1.2,-0.2M13.1,-0.6l1.2,-0.7M-3.4,1.0l0.8,0.4" stroke="#6f5246" stroke-width="0.95" stroke-linecap="round" fill="none" opacity="0.45"/>
</g>
<g transform="translate(163.3 706.3) rotate(20)">
<ellipse rx="15.2" ry="12.2" fill="url(#bg0)" stroke="#8e6b5a" stroke-opacity="0.55" stroke-width="0.7"/>
<path d="M-5.6,-7.1l1.9,1.4M-3.2,-2.7l1.4,-0.5M-0.8,3.4l1.8,0.4M-1.1,5.5l2.4,0.2M-2.3,-5.4l2.2,0.7M-5.1,-0.2l1.0,-0.8M3.0,9.5l0.7,-0.3M-7.4,9.2l0.8,-0.1M-3.6,-0.6l1.3,-0.9M-3.4,5.9l2.4,-0.2M-2.5,6.2l1.0,-0.5M-4.7,8.5l1.1,-0.4M11.9,2.4l1.0,-0.3M7.9,-8.9l1.3,-0.9M6.2,-8.3l0.5,-0.2M4.9,-6.7l0.7,0.5M1.5,4.8l1.4,1.1M-0.8,-2.3l0.5,-0.2M-6.9,-9.3l0.7,0.2M-1.5,-2.3l2.1,-0.6M-8.7,7.0l1.5,0.3M10.3,3.1l0.7,0.3M1.7,-8.9l1.4,1.1M5.6,-8.3l0.9,-0.7" stroke="#6f5246" stroke-width="0.95" stroke-linecap="round" fill="none" opacity="0.45"/>
</g>
<g transform="translate(218.0 710.2) rotate(20)">
<ellipse rx="18.9" ry="12.8" fill="url(#bg0)" stroke="#8e6b5a" stroke-opacity="0.55" stroke-width="0.7"/>
<path d="M4.1,1.2l1.3,1.0M-7.8,1.9l0.5,-0.2M-6.8,5.3l0.9,0.5M17.1,-0.0l0.8,0.2M6.1,6.9l1.4,-0.4M1.8,-5.6l1.9,0.7M-3.8,-2.7l0.7,0.3M8.5,-1.5l1.7,0.6M4.7,-3.4l0.7,-0.5M-3.7,-6.7l1.6,-0.8M-6.0,-4.8l1.3,0.2M7.6,-1.6l1.6,-1.2M6.4,8.7l0.6,0.3M6.5,-3.7l1.8,0.4M12.2,-1.2l1.0,0.6M-1.8,11.1l1.2,-0.2M7.7,-8.7l0.8,0.2M11.1,-0.5l1.5,0.3M-2.1,-7.3l1.1,-0.5M-7.1,-4.9l1.6,-1.2M0.4,-4.9l1.9,0.9M-3.7,3.2l0.8,-0.4M15.4,-1.4l0.4,-0.3M-11.0,-2.9l1.4,0.7M3.6,-3.9l2.3,-0.1M-7.0,0.9l0.9,-0.4M-2.5,8.5l0.9,-0.3M4.0,2.3l2.2,-0.2M-6.5,1.3l1.8,-1.5M1.0,-3.0l1.0,-0.0" stroke="#6f5246" stroke-width="0.95" stroke-linecap="round" fill="none" opacity="0.45"/>
</g>
<g transform="translate(380.0 711.7) rotate(12)">
<ellipse rx="14.2" ry="8.2" fill="url(#bg3)" stroke="#8e6b5a" stroke-opacity="0.55" stroke-width="0.7"/>
<path d="M7.1,3.8l0.9,0.5M5.7,-0.1l1.9,-0.8M7.3,-3.2l2.2,0.1M-5.4,-3.9l1.8,-0.4M-1.1,-5.3l1.0,-0.0M-10.5,2.9l1.3,0.3M-4.4,-5.1l0.6,-0.4M0.2,2.9l0.4,0.3M-11.9,-1.2l1.6,-1.1M6.2,3.0l0.7,0.1M10.3,-3.2l1.0,0.5M-5.0,-0.2l0.8,0.4M3.4,-1.8l0.7,-0.1M5.2,5.8l0.6,-0.3M4.6,-1.0l1.9,0.3M6.5,5.8l0.8,0.2M-1.8,-2.2l1.3,-0.5M8.7,4.4l1.7,-0.1" stroke="#6f5246" stroke-width="0.95" stroke-linecap="round" fill="none" opacity="0.45"/>
</g>
<g transform="translate(337.2 712.3) rotate(85)">
<ellipse rx="13.3" ry="9.8" fill="url(#bg0)" stroke="#8e6b5a" stroke-opacity="0.55" stroke-width="0.7"/>
<path d="M-7.4,5.7l1.2,-0.3M2.7,-6.1l2.2,0.0M11.2,2.9l0.9,-0.2M-2.7,4.4l2.1,-0.6M-3.3,6.3l1.2,-0.3M-2.9,-7.5l1.0,-0.1M-10.9,-2.5l1.9,1.1M3.4,0.9l1.4,0.3M3.4,1.4l1.8,-1.2M-5.9,2.7l1.4,-0.8M-8.3,2.1l1.1,-0.2M-7.4,-4.1l1.3,0.3M4.5,3.8l1.5,-0.4M3.3,7.8l1.9,-1.1M2.0,0.4l1.4,-0.6M4.6,0.7l1.9,0.8M-1.8,7.4l0.7,0.4M-3.8,-7.4l1.5,-0.4M7.4,0.0l0.9,-0.6" stroke="#6f5246" stroke-width="0.95" stroke-linecap="round" fill="none" opacity="0.45"/>
</g>
<g transform="translate(258.7 713.2) rotate(-60)">
<ellipse rx="13.6" ry="10.2" fill="url(#bg1)" stroke="#8e6b5a" stroke-opacity="0.55" stroke-width="0.7"/>
<path d="M-10.3,-2.5l1.3,-0.9M-5.7,1.1l1.1,0.9M2.4,5.1l1.6,0.4M-2.7,5.6l1.2,0.8M11.2,2.7l1.3,0.9M-7.8,4.8l0.5,-0.2M-4.3,-4.4l1.2,0.9M-9.5,-2.8l1.5,-0.5M7.8,-0.5l0.5,-0.1M-5.1,2.3l1.1,-0.7M8.5,-2.5l1.0,0.1M-6.6,-3.2l2.0,-0.1M9.7,-3.8l1.6,-0.8M-3.5,-8.8l1.6,-1.2M-0.4,1.5l1.5,0.9M-4.0,-7.0l1.5,0.5M-10.7,-2.4l0.8,-0.0M-2.6,-2.1l1.3,0.9M9.1,4.2l1.6,1.0M9.8,-1.6l1.6,-0.1" stroke="#6f5246" stroke-width="0.95" stroke-linecap="round" fill="none" opacity="0.45"/>
</g>
<g transform="translate(356.0 715.3) rotate(80)">
<ellipse rx="17.1" ry="12.2" fill="url(#bg3)" stroke="#8e6b5a" stroke-opacity="0.55" stroke-width="0.7"/>
<path d="M1.9,1.9l0.9,-0.1M2.8,6.0l1.1,0.3M11.2,0.8l1.7,0.5M13.7,3.0l0.8,-0.3M8.6,-4.1l0.8,-0.5M-10.8,6.3l1.4,-0.2M-12.9,-1.6l2.2,-0.6M5.5,-1.1l1.0,-0.4M-14.4,0.9l1.7,-1.4M-7.7,4.0l1.7,-0.8M5.3,-0.1l2.1,-0.3M9.1,2.6l1.5,0.9M-5.7,5.9l1.7,-0.0M9.9,5.8l1.7,0.3M10.6,2.7l0.8,0.1M0.9,8.4l1.6,-0.7M1.5,-6.5l0.6,0.0M6.5,-5.4l1.0,0.0M-8.0,0.4l1.0,0.0M4.2,-3.0l1.0,0.6M12.1,2.2l1.4,1.0M4.0,-7.8l1.0,-0.3M2.7,9.8l0.5,0.0M8.0,-1.0l1.3,-0.5M2.6,9.1l0.6,-0.2M7.7,2.7l1.5,-0.8M1.2,4.8l1.9,-1.2" stroke="#6f5246" stroke-width="0.95" stroke-linecap="round" fill="none" opacity="0.45"/>
</g>
<g transform="translate(314.7 725.8) rotate(-8)">
<ellipse rx="17.4" ry="9.4" fill="url(#bgb)" stroke="#8e6b5a" stroke-opacity="0.55" stroke-width="0.7"/>
<path d="M-11.5,-3.3l1.8,0.1M-13.1,-2.2l1.0,0.3M5.0,-3.1l0.7,0.5M-13.4,-2.6l1.6,-1.2M11.1,1.5l1.4,0.2M-11.8,-4.4l1.9,0.8M6.2,-0.6l1.7,1.4M0.4,2.1l1.7,-1.0M-8.6,3.5l0.5,0.1M-5.1,-7.4l1.0,0.2M-5.8,3.5l2.3,0.1M-6.7,-7.0l1.7,0.1M-3.7,6.3l1.1,0.3M5.3,-5.8l1.1,0.4M7.8,1.9l0.4,-0.3M2.4,-3.4l1.9,-1.3M14.3,-3.4l1.9,0.9M-1.6,-6.0l0.5,0.4M-9.4,5.6l1.8,1.1M9.4,2.4l1.2,-0.5M10.6,6.1l1.3,0.9M15.4,-0.3l1.1,-0.1" stroke="#6f5246" stroke-width="0.95" stroke-linecap="round" fill="none" opacity="0.45"/>
</g>
<g transform="translate(375.0 725.8) rotate(25)">
<ellipse rx="13.6" ry="10.2" fill="url(#bg3)" stroke="#8e6b5a" stroke-opacity="0.55" stroke-width="0.7"/>
<path d="M9.3,-6.0l1.5,-0.8M5.1,-4.7l1.9,1.4M2.9,1.4l0.6,0.1M-9.9,0.4l1.1,0.1M4.9,2.5l1.8,-0.7M7.6,4.9l1.9,1.4M7.8,-5.3l0.5,-0.2M-8.0,-3.4l1.7,-1.3M-2.7,-2.0l1.6,-1.1M-10.9,0.7l2.2,1.0M1.4,-5.1l1.7,0.1M-9.7,0.2l1.3,-0.2M0.8,-7.5l1.9,1.3M1.4,-3.2l1.5,-0.0M3.0,-8.6l0.7,-0.6M8.4,-6.7l1.1,0.2M-5.9,3.9l1.6,0.5M6.2,-3.3l1.4,-0.1M9.0,-0.6l1.8,1.4M10.8,1.5l0.7,-0.0" stroke="#6f5246" stroke-width="0.95" stroke-linecap="round" fill="none" opacity="0.45"/>
</g>
<g transform="translate(281.1 725.8) rotate(10)">
<ellipse rx="18.0" ry="11.2" fill="url(#bg2)" stroke="#8e6b5a" stroke-opacity="0.55" stroke-width="0.7"/>
<path d="M11.1,3.7l1.8,-0.4M-10.2,-1.6l0.7,-0.3M12.3,-3.0l1.4,0.6M7.4,-7.6l1.3,0.1M-2.1,2.7l1.9,-1.3M-10.5,6.8l0.9,0.6M6.7,0.6l1.3,0.3M4.2,-9.3l1.9,-0.9M4.4,-0.1l1.4,-0.3M7.7,0.7l1.9,1.5M-9.2,8.4l1.5,-1.2M-6.2,-2.9l1.0,0.3M2.6,6.0l0.5,-0.1M-2.0,3.5l0.7,-0.1M13.8,4.8l1.0,-0.2M13.6,3.6l0.7,-0.5M-10.8,7.1l2.2,-0.1M-4.5,-1.5l2.1,0.8M0.4,9.4l0.8,-0.0M-2.8,7.5l1.0,0.1M-0.1,2.1l0.7,0.3M-11.2,2.4l1.7,-0.6M4.0,6.1l1.8,0.6M-12.5,2.0l0.8,0.6M-9.4,-7.1l1.2,0.1M-3.0,-7.3l1.8,-0.6" stroke="#6f5246" stroke-width="0.95" stroke-linecap="round" fill="none" opacity="0.45"/>
</g>
<g transform="translate(236.2 728.1) rotate(-12)">
<ellipse rx="16.7" ry="10.2" fill="url(#bg2)" stroke="#8e6b5a" stroke-opacity="0.55" stroke-width="0.7"/>
<path d="M0.3,-4.1l1.2,0.6M1.5,2.5l2.3,-0.1M-5.4,8.1l2.3,0.2M-11.7,-1.7l0.5,0.3M-2.0,-4.2l1.8,-0.7M11.1,2.4l0.8,0.1M-8.6,-7.5l1.7,-0.5M2.7,4.6l1.8,1.2M13.3,-2.9l1.9,-0.7M9.0,-5.6l1.3,0.3M-6.3,6.1l0.9,-0.4M-3.1,8.6l1.0,0.3M-9.4,-5.5l0.5,0.0M13.9,-0.0l0.5,0.1M-13.3,0.3l1.7,0.6M9.5,-6.3l2.3,0.3M11.9,-4.9l0.9,-0.2M12.8,1.1l1.1,0.7M-11.0,-1.8l1.8,0.0M-6.9,6.6l2.3,0.5M-8.2,-5.5l0.5,-0.3M-12.2,1.5l2.1,0.1M-2.3,7.0l0.7,-0.4" stroke="#6f5246" stroke-width="0.95" stroke-linecap="round" fill="none" opacity="0.45"/>
</g>
<g transform="translate(262.6 729.9) rotate(20)">
<ellipse rx="9.1" ry="6.9" fill="url(#bg3)" stroke="#8e6b5a" stroke-opacity="0.55" stroke-width="0.7"/>
<path d="M0.8,5.0l1.0,-0.2M-1.6,6.1l1.2,-0.1M6.5,3.0l0.6,0.3M0.3,3.2l0.6,-0.1M4.9,-1.1l1.1,0.4M0.9,5.4l2.1,1.1M7.1,1.4l1.8,0.8M-2.6,-1.1l1.8,0.2M-7.3,0.5l0.8,-0.1M-5.3,-4.4l2.0,1.2M-0.4,4.1l1.5,-0.1M4.5,1.8l2.2,-0.4M5.7,-4.1l1.2,0.8" stroke="#6f5246" stroke-width="0.95" stroke-linecap="round" fill="none" opacity="0.45"/>
</g>
<g transform="translate(206.2 729.0) rotate(12)">
<ellipse rx="16.1" ry="10.2" fill="url(#bg0)" stroke="#8e6b5a" stroke-opacity="0.55" stroke-width="0.7"/>
<path d="M11.4,0.4l2.2,-0.6M-4.0,2.9l2.2,0.2M-9.6,-4.0l2.2,0.1M-9.5,-1.9l0.9,0.7M-6.3,-5.3l0.7,0.1M9.8,1.8l0.9,-0.1M1.3,4.5l1.1,-0.7M-0.1,7.9l0.6,0.3M-6.0,2.4l1.9,-0.3M-1.6,1.1l0.7,0.5M-9.8,0.2l1.4,-0.9M7.9,7.0l1.6,-0.4M5.3,-3.9l1.2,0.5M4.8,-4.1l2.2,-0.9M-1.1,6.7l1.6,0.1M-12.7,1.7l1.0,-0.1M-6.2,-7.8l1.0,-0.2M-7.7,0.9l1.2,0.9M1.4,8.4l2.2,-0.0M-3.3,2.8l1.4,0.7M-5.7,3.3l1.8,-1.0M-11.9,-3.2l1.4,-0.4" stroke="#6f5246" stroke-width="0.95" stroke-linecap="round" fill="none" opacity="0.45"/>
</g>
<g transform="translate(332.4 736.0) rotate(-5)">
<ellipse rx="20.8" ry="12.8" fill="url(#bg0)" stroke="#8e6b5a" stroke-opacity="0.55" stroke-width="0.7"/>
<path d="M-8.1,8.2l1.8,0.8M1.1,-4.4l1.0,0.2M-11.8,-8.3l1.1,-0.8M4.6,1.4l1.5,-0.4M17.6,2.6l0.6,-0.1M2.4,-9.5l0.7,0.6M-16.3,3.4l1.3,0.3M5.3,-0.9l1.6,0.2M14.5,-1.8l0.9,-0.5M-7.7,-1.7l0.9,0.7M3.7,5.0l1.8,0.0M9.3,-3.7l1.9,-0.2M18.2,-0.4l0.9,-0.2M-13.0,1.3l1.6,0.4M9.1,7.6l2.0,-0.3M-1.2,6.0l1.4,-0.8M2.6,6.4l1.7,0.6M-7.5,-1.3l1.0,-0.7M13.1,-0.2l2.0,-0.7M-1.3,4.7l1.2,0.3M-10.5,-2.2l0.7,-0.2M1.0,-5.1l2.1,1.1M1.6,1.7l1.7,-1.2M-6.6,-7.3l1.3,0.1M16.4,1.1l1.7,-1.3M-3.5,10.5l0.8,-0.4M6.4,-10.9l2.2,-1.0M2.4,1.6l0.7,-0.2M16.0,-2.5l0.8,-0.1M-7.7,-1.5l0.6,-0.3M-1.5,2.8l1.9,1.4M-12.5,1.4l1.4,0.7" stroke="#6f5246" stroke-width="0.95" stroke-linecap="round" fill="none" opacity="0.45"/>
</g>
<g transform="translate(253.2 744.7) rotate(5)">
<ellipse rx="18.0" ry="11.2" fill="url(#bg3)" stroke="#8e6b5a" stroke-opacity="0.55" stroke-width="0.7"/>
<path d="M12.3,4.6l1.5,0.3M-13.4,-5.5l1.8,1.1M0.2,-6.9l1.8,-0.6M-2.0,-4.6l2.4,0.2M-6.8,-1.9l0.9,0.5M-3.1,3.9l0.9,0.1M3.7,9.7l1.6,-0.3M-6.0,5.4l1.9,-0.8M-3.2,4.8l1.8,1.1M4.3,6.9l1.5,0.5M4.3,-0.4l1.0,0.4M-3.6,3.7l2.1,-0.1M4.9,5.1l1.1,-0.6M-2.9,-0.6l0.6,0.5M-9.2,-2.5l2.1,-0.3M0.4,-6.1l2.3,0.4M-4.2,8.1l1.8,0.0M12.0,-6.7l1.8,1.5M2.6,-3.5l0.5,-0.0M6.6,5.6l1.9,1.3M-4.3,-3.2l0.5,-0.3M4.9,-0.0l1.0,0.3M-7.3,-9.0l1.7,0.8M-14.2,-1.7l1.1,-0.8M2.0,-2.9l0.8,-0.1M-4.5,9.4l1.3,0.4" stroke="#6f5246" stroke-width="0.95" stroke-linecap="round" fill="none" opacity="0.45"/>
</g>
<g transform="translate(279.8 746.6) rotate(85)">
<ellipse rx="13.3" ry="9.8" fill="url(#bg2)" stroke="#8e6b5a" stroke-opacity="0.55" stroke-width="0.7"/>
<path d="M8.8,-0.9l2.1,-0.3M-5.1,-5.1l1.7,0.6M-2.1,-7.7l0.9,0.2M2.9,-7.5l0.8,0.1M11.9,0.8l1.6,-0.6M-5.6,-3.1l1.4,0.6M7.5,-6.9l1.8,0.1M-5.0,-0.4l0.5,0.3M10.9,-1.3l0.8,0.2M2.4,4.9l1.6,1.1M10.7,0.6l1.8,0.5M4.4,4.3l1.8,-0.8M4.1,5.5l0.8,-0.3M3.2,3.6l0.7,-0.1M-2.6,3.1l0.8,-0.1M6.1,2.2l0.6,0.2M6.0,4.3l0.7,0.2M10.1,-1.2l0.6,-0.3M5.8,7.3l0.6,0.2" stroke="#6f5246" stroke-width="0.95" stroke-linecap="round" fill="none" opacity="0.45"/>
</g>
<g transform="translate(302.9 746.2) rotate(60)">
<ellipse rx="15.2" ry="12.8" fill="url(#bg1)" stroke="#8e6b5a" stroke-opacity="0.55" stroke-width="0.7"/>
<path d="M-8.1,3.4l1.1,0.2M-11.6,1.0l1.2,0.6M-6.0,-3.6l1.2,-0.5M3.2,-1.6l1.3,-0.1M-3.9,-2.6l1.5,-0.9M-1.4,6.6l0.5,0.4M12.2,4.1l1.5,1.0M-8.6,-4.8l1.3,0.1M-3.0,4.5l1.5,0.6M13.0,-1.6l1.5,-0.7M-5.5,-1.8l2.0,0.7M-5.7,4.8l2.2,-0.2M10.0,4.5l1.1,-0.7M4.1,-4.4l0.9,0.0M0.0,6.9l1.1,0.8M-7.8,-4.2l1.7,1.2M2.7,-1.3l1.9,0.8M-2.8,-9.7l1.6,-0.7M11.2,-4.4l1.0,0.0M2.6,5.4l1.5,-0.8M10.9,0.5l1.4,0.9M7.8,1.1l0.6,0.4M2.0,-4.6l1.3,0.4M-7.1,-5.6l1.4,-0.6M5.4,1.9l1.3,-0.7" stroke="#6f5246" stroke-width="0.95" stroke-linecap="round" fill="none" opacity="0.45"/>
</g>
</g>
<rect x="279.36" y="796.2" width="1.5" height="175.4" fill="#cfcfcf"/>
<rect x="353.22" y="796.2" width="1.5" height="175.4" fill="#cfcfcf"/>
<rect x="427.08" y="796.2" width="1.5" height="175.4" fill="#cfcfcf"/>
<rect x="500.94" y="796.2" width="1.5" height="175.4" fill="#cfcfcf"/>
<rect x="574.80" y="796.2" width="1.5" height="175.4" fill="#cfcfcf"/>
<rect x="648.66" y="796.2" width="1.5" height="175.4" fill="#cfcfcf"/>
<rect x="722.52" y="796.2" width="1.5" height="175.4" fill="#cfcfcf"/>
<rect x="796.38" y="796.2" width="1.5" height="175.4" fill="#cfcfcf"/>
<rect x="871.04" y="796.2" width="1.5" height="175.4" fill="#cfcfcf"/>
<rect x="944.10" y="796.2" width="1.5" height="175.4" fill="#cfcfcf"/>
<rect x="206.2" y="799.00" width="669.4" height="19" fill="#1a73e8"/>
<rect x="875.6" y="807.90" width="21" height="1.3" fill="#9e9e9e"/>
<text transform="translate(896.90 814.70) scale(0.9903 1)" font-size="19.6" fill="#2b7de9">45</text>
<text transform="translate(923.22 814.70) scale(0.7963 1)" font-size="19.6" fill="#2b7de9">%</text>
<text transform="translate(132.83 816.20) scale(1.1183 1)" font-size="17.7" fill="#141414">Nayarit</text>
<rect x="206.2" y="824.05" width="251.6" height="19" fill="#1a73e8"/>
<rect x="457.8" y="832.95" width="21" height="1.3" fill="#9e9e9e"/>
<text transform="translate(478.04 839.75) scale(1.0461 1)" font-size="19.6" fill="#2b7de9">17</text>
<text transform="translate(505.42 839.75) scale(0.7963 1)" font-size="19.6" fill="#2b7de9">%</text>
<text transform="translate(110.28 841.25) scale(1.0496 1)" font-size="17.7" fill="#141414">Zacatecas</text>
<rect x="206.2" y="849.10" width="211.7" height="19" fill="#1a73e8"/>
<rect x="417.9" y="858.00" width="21" height="1.3" fill="#9e9e9e"/>
<text transform="translate(438.16 864.80) scale(1.0251 1)" font-size="19.6" fill="#2b7de9">14</text>
<text transform="translate(465.52 864.80) scale(0.7963 1)" font-size="19.6" fill="#2b7de9">%</text>
<text transform="translate(136.07 866.30) scale(1.0385 1)" font-size="17.7" fill="#141414">Sonora</text>
<rect x="206.2" y="874.15" width="112.4" height="19" fill="#1a73e8"/>
<rect x="318.6" y="883.05" width="21" height="1.3" fill="#9e9e9e"/>
<text transform="translate(339.46 889.85) scale(1.0538 1)" font-size="19.6" fill="#2b7de9">8</text>
<text transform="translate(355.62 889.85) scale(0.7963 1)" font-size="19.6" fill="#2b7de9">%</text>
<text transform="translate(37.10 891.35) scale(1.0749 1)" font-size="17.7" fill="#141414">Baja California Sur</text>
<rect x="206.2" y="899.20" width="105.2" height="19" fill="#1a73e8"/>
<rect x="311.4" y="908.10" width="21" height="1.3" fill="#9e9e9e"/>
<text transform="translate(332.01 914.90) scale(1.0889 1)" font-size="19.6" fill="#2b7de9">7</text>
<text transform="translate(348.42 914.90) scale(0.7963 1)" font-size="19.6" fill="#2b7de9">%</text>
<text transform="translate(96.23 916.40) scale(1.0925 1)" font-size="17.7" fill="#141414">Guanajuato</text>
<rect x="206.2" y="924.25" width="74.2" height="19" fill="#1a73e8"/>
<rect x="280.4" y="933.15" width="21" height="1.3" fill="#9e9e9e"/>
<text transform="translate(301.37 939.95) scale(1.0426 1)" font-size="19.6" fill="#2b7de9">5</text>
<text transform="translate(317.42 939.95) scale(0.7963 1)" font-size="19.6" fill="#2b7de9">%</text>
<text transform="translate(124.22 941.45) scale(1.0600 1)" font-size="17.7" fill="#141414">Durango</text>
<rect x="206.2" y="949.30" width="32.3" height="19" fill="#1a73e8"/>
<rect x="238.5" y="958.20" width="21" height="1.3" fill="#9e9e9e"/>
<text transform="translate(259.23 965.00) scale(1.0769 1)" font-size="19.6" fill="#2b7de9">2</text>
<text transform="translate(275.52 965.00) scale(0.7963 1)" font-size="19.6" fill="#2b7de9">%</text>
<text transform="translate(106.77 966.50) scale(1.0344 1)" font-size="17.7" fill="#141414">Chihuahua</text>
<rect x="205.1" y="796.2" width="2.2" height="175.4" fill="#000"/>
<text transform="translate(193.55 1001.90) scale(0.9282 1)" font-size="18.8" fill="#141414">0%</text>
<text transform="translate(335.53 1001.90) scale(0.9576 1)" font-size="18.8" fill="#141414">10%</text>
<text transform="translate(483.74 1001.90) scale(0.9443 1)" font-size="18.8" fill="#141414">20%</text>
<text transform="translate(631.65 1001.90) scale(0.9391 1)" font-size="18.8" fill="#141414">30%</text>
<text transform="translate(779.66 1001.90) scale(0.9314 1)" font-size="18.8" fill="#141414">40%</text>
<text transform="translate(927.09 1001.90) scale(0.9391 1)" font-size="18.8" fill="#141414">50%</text>
<text transform="translate(530.47 1038.50) scale(1.0542 1)" font-size="17.9" fill="#141414" font-style="italic">Procentaje</text>
</svg></body></html>
